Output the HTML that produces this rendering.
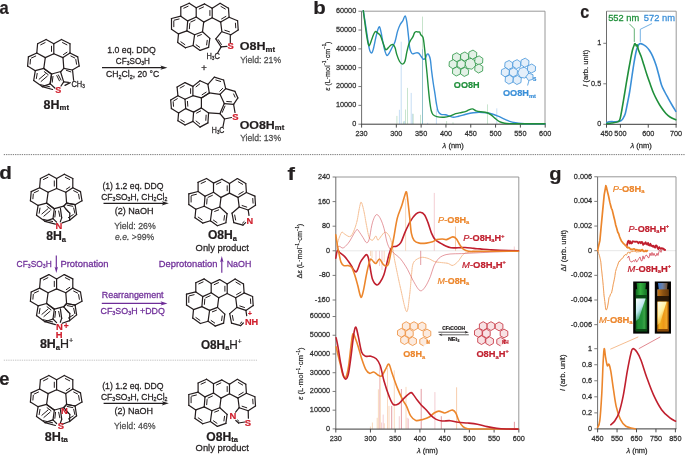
<!DOCTYPE html>
<html><head><meta charset="utf-8"><style>
html,body{margin:0;padding:0;background:#fff;overflow:hidden;width:685px;height:455px;}
svg{display:block;will-change:transform;}
text{font-family:"Liberation Sans",sans-serif;}
</style></head><body>
<svg width="685" height="455" viewBox="0 0 685 455">
<rect width="685" height="455" fill="#fff"/>
<line x1="396.9" y1="124" x2="396.9" y2="115.9" stroke="#b6dbbd" stroke-width="0.75"/>
<line x1="399.4" y1="124" x2="399.4" y2="109.8" stroke="#b3d2f0" stroke-width="0.75"/>
<line x1="401.2" y1="124" x2="401.2" y2="41.7" stroke="#b3d2f0" stroke-width="0.75"/>
<line x1="403.4" y1="124" x2="403.4" y2="121.4" stroke="#b6dbbd" stroke-width="0.75"/>
<line x1="404.4" y1="124" x2="404.4" y2="120.9" stroke="#b3d2f0" stroke-width="0.75"/>
<line x1="405.5" y1="124" x2="405.5" y2="109.5" stroke="#b6dbbd" stroke-width="0.75"/>
<line x1="407.5" y1="124" x2="407.5" y2="87.9" stroke="#b6dbbd" stroke-width="0.75"/>
<line x1="411.2" y1="124" x2="411.2" y2="92.9" stroke="#b3d2f0" stroke-width="0.75"/>
<line x1="412.4" y1="124" x2="412.4" y2="113.8" stroke="#b3d2f0" stroke-width="0.75"/>
<line x1="413.2" y1="124" x2="413.2" y2="113.8" stroke="#b6dbbd" stroke-width="0.75"/>
<line x1="420.5" y1="124" x2="420.5" y2="114.8" stroke="#b6dbbd" stroke-width="0.75"/>
<line x1="422.5" y1="124" x2="422.5" y2="16.6" stroke="#b3dab9" stroke-width="0.75"/>
<line x1="427.6" y1="124" x2="427.6" y2="122.9" stroke="#b3d2f0" stroke-width="0.75"/>
<line x1="436.4" y1="124" x2="436.4" y2="108.9" stroke="#b3d2f0" stroke-width="0.75"/>
<line x1="446.6" y1="124" x2="446.6" y2="121" stroke="#b6dbbd" stroke-width="0.75"/>
<line x1="453" y1="124" x2="453" y2="122.3" stroke="#b6dbbd" stroke-width="0.75"/>
<line x1="487.5" y1="124" x2="487.5" y2="104.4" stroke="#b6dbbd" stroke-width="0.75"/>
<line x1="496.8" y1="124" x2="496.8" y2="108.4" stroke="#b3d2f0" stroke-width="0.75"/>
<line x1="422.5" y1="124" x2="422.5" y2="49.2" stroke="#7fb6c9" stroke-width="0.75"/>
<line x1="361.6" y1="11.2" x2="545" y2="11.2" stroke="#8c8c8c" stroke-width="0.9"/>
<line x1="545" y1="11.2" x2="545" y2="124.2" stroke="#8c8c8c" stroke-width="0.9"/>
<line x1="361.6" y1="11.2" x2="361.6" y2="124.2" stroke="#6d6d6d" stroke-width="1.0"/>
<line x1="361.1" y1="124.2" x2="545.45" y2="124.2" stroke="#3a3a3a" stroke-width="1.0"/>
<line x1="358.4" y1="124.2" x2="361.6" y2="124.2" stroke="#6d6d6d" stroke-width="0.9"/>
<line x1="358.4" y1="105.37" x2="361.6" y2="105.37" stroke="#6d6d6d" stroke-width="0.9"/>
<line x1="358.4" y1="86.54" x2="361.6" y2="86.54" stroke="#6d6d6d" stroke-width="0.9"/>
<line x1="358.4" y1="67.71" x2="361.6" y2="67.71" stroke="#6d6d6d" stroke-width="0.9"/>
<line x1="358.4" y1="48.88" x2="361.6" y2="48.88" stroke="#6d6d6d" stroke-width="0.9"/>
<line x1="358.4" y1="30.05" x2="361.6" y2="30.05" stroke="#6d6d6d" stroke-width="0.9"/>
<line x1="358.4" y1="11.22" x2="361.6" y2="11.22" stroke="#6d6d6d" stroke-width="0.9"/>
<text x="356.2" y="126.15" font-size="8.1" fill="#2e2e2e" stroke="#2e2e2e" stroke-width="0.26" text-anchor="end" textLength="4.05" lengthAdjust="spacingAndGlyphs">0</text>
<text x="356.2" y="107.32" font-size="8.1" fill="#2e2e2e" stroke="#2e2e2e" stroke-width="0.26" text-anchor="end" textLength="20.25" lengthAdjust="spacingAndGlyphs">10000</text>
<text x="356.2" y="88.49" font-size="8.1" fill="#2e2e2e" stroke="#2e2e2e" stroke-width="0.26" text-anchor="end" textLength="20.25" lengthAdjust="spacingAndGlyphs">20000</text>
<text x="356.2" y="69.66" font-size="8.1" fill="#2e2e2e" stroke="#2e2e2e" stroke-width="0.26" text-anchor="end" textLength="20.25" lengthAdjust="spacingAndGlyphs">30000</text>
<text x="356.2" y="50.83" font-size="8.1" fill="#2e2e2e" stroke="#2e2e2e" stroke-width="0.26" text-anchor="end" textLength="20.25" lengthAdjust="spacingAndGlyphs">40000</text>
<text x="356.2" y="32" font-size="8.1" fill="#2e2e2e" stroke="#2e2e2e" stroke-width="0.26" text-anchor="end" textLength="20.25" lengthAdjust="spacingAndGlyphs">50000</text>
<text x="356.2" y="13.17" font-size="8.1" fill="#2e2e2e" stroke="#2e2e2e" stroke-width="0.26" text-anchor="end" textLength="20.25" lengthAdjust="spacingAndGlyphs">60000</text>
<line x1="361.6" y1="124.2" x2="361.6" y2="127.6" stroke="#3a3a3a" stroke-width="0.9"/>
<line x1="396.33" y1="124.2" x2="396.33" y2="127.6" stroke="#3a3a3a" stroke-width="0.9"/>
<line x1="421.14" y1="124.2" x2="421.14" y2="127.6" stroke="#3a3a3a" stroke-width="0.9"/>
<line x1="445.95" y1="124.2" x2="445.95" y2="127.6" stroke="#3a3a3a" stroke-width="0.9"/>
<line x1="470.76" y1="124.2" x2="470.76" y2="127.6" stroke="#3a3a3a" stroke-width="0.9"/>
<line x1="495.57" y1="124.2" x2="495.57" y2="127.6" stroke="#3a3a3a" stroke-width="0.9"/>
<line x1="520.38" y1="124.2" x2="520.38" y2="127.6" stroke="#3a3a3a" stroke-width="0.9"/>
<line x1="545.19" y1="124.2" x2="545.19" y2="127.6" stroke="#3a3a3a" stroke-width="0.9"/>
<text x="361.6" y="135.8" font-size="8.1" fill="#2e2e2e" stroke="#2e2e2e" stroke-width="0.26" text-anchor="middle" textLength="12.15" lengthAdjust="spacingAndGlyphs">230</text>
<text x="396.33" y="135.8" font-size="8.1" fill="#2e2e2e" stroke="#2e2e2e" stroke-width="0.26" text-anchor="middle" textLength="12.15" lengthAdjust="spacingAndGlyphs">300</text>
<text x="421.14" y="135.8" font-size="8.1" fill="#2e2e2e" stroke="#2e2e2e" stroke-width="0.26" text-anchor="middle" textLength="12.15" lengthAdjust="spacingAndGlyphs">350</text>
<text x="445.95" y="135.8" font-size="8.1" fill="#2e2e2e" stroke="#2e2e2e" stroke-width="0.26" text-anchor="middle" textLength="12.15" lengthAdjust="spacingAndGlyphs">400</text>
<text x="470.76" y="135.8" font-size="8.1" fill="#2e2e2e" stroke="#2e2e2e" stroke-width="0.26" text-anchor="middle" textLength="12.15" lengthAdjust="spacingAndGlyphs">450</text>
<text x="495.57" y="135.8" font-size="8.1" fill="#2e2e2e" stroke="#2e2e2e" stroke-width="0.26" text-anchor="middle" textLength="12.15" lengthAdjust="spacingAndGlyphs">500</text>
<text x="520.38" y="135.8" font-size="8.1" fill="#2e2e2e" stroke="#2e2e2e" stroke-width="0.26" text-anchor="middle" textLength="12.15" lengthAdjust="spacingAndGlyphs">550</text>
<text x="545.19" y="135.8" font-size="8.1" fill="#2e2e2e" stroke="#2e2e2e" stroke-width="0.26" text-anchor="middle" textLength="12.15" lengthAdjust="spacingAndGlyphs">600</text>
<path d="M363.3,10.7 C363.63,12.78 364.63,18.92 365.3,23.2 C365.97,27.48 366.65,32.22 367.3,36.4 C367.95,40.58 368.55,45.55 369.2,48.3 C369.85,51.05 370.53,52.68 371.2,52.9 C371.87,53.12 372.43,52.13 373.2,49.6 C373.97,47.07 375.03,41 375.8,37.7 C376.57,34.4 377.18,31.6 377.8,29.8 C378.42,28 378.95,26.47 379.5,26.9 C380.05,27.33 380.5,29.72 381.1,32.4 C381.7,35.08 382.43,39.8 383.1,43 C383.77,46.2 384.45,49.52 385.1,51.6 C385.75,53.68 386.35,55.18 387,55.5 C387.65,55.82 388.22,54.7 389,53.5 C389.78,52.3 390.7,50.27 391.7,48.3 C392.7,46.33 394.02,44.57 395,41.7 C395.98,38.83 396.73,33.97 397.6,31.1 C398.47,28.23 399.32,26.25 400.2,24.5 C401.08,22.75 402.08,22.03 402.9,20.6 C403.72,19.17 404.45,15.68 405.1,15.9 C405.75,16.12 406.23,18.48 406.8,21.9 C407.37,25.32 408.03,32.18 408.5,36.4 C408.97,40.62 409.2,44.63 409.6,47.2 C410,49.77 410.4,50.68 410.9,51.8 C411.4,52.92 411.77,53.72 412.6,53.9 C413.43,54.08 414.9,53.02 415.9,52.9 C416.9,52.78 417.72,52.6 418.6,53.2 C419.48,53.8 420.43,55.52 421.2,56.5 C421.97,57.48 422.53,58.77 423.2,59.1 C423.87,59.43 424.55,59.32 425.2,58.5 C425.85,57.68 426.5,54.82 427.1,54.2 C427.7,53.58 428.25,53.87 428.8,54.8 C429.35,55.73 429.92,56.98 430.4,59.8 C430.88,62.62 431.22,67.75 431.7,71.7 C432.18,75.65 432.75,79.77 433.3,83.5 C433.85,87.23 434.5,90.85 435,94.1 C435.5,97.35 435.78,100.15 436.3,103 C436.82,105.85 437.3,109.32 438.1,111.2 C438.9,113.08 439.88,113.72 441.1,114.3 C442.32,114.88 443.95,114.38 445.4,114.7 C446.85,115.02 448.45,115.78 449.8,116.2 C451.15,116.62 452.03,117.2 453.5,117.2 C454.97,117.2 456.53,116.68 458.6,116.2 C460.67,115.72 463.47,114.87 465.9,114.3 C468.33,113.73 471.02,113.15 473.2,112.8 C475.38,112.45 476.82,112.2 479,112.2 C481.18,112.2 484.1,112.5 486.3,112.8 C488.5,113.1 490.25,113.43 492.2,114 C494.15,114.57 496.07,115.4 498,116.2 C499.93,117 501.85,117.95 503.8,118.8 C505.75,119.65 507.75,120.65 509.7,121.3 C511.65,121.95 513.55,122.33 515.5,122.7 C517.45,123.07 518.98,123.32 521.4,123.5 C523.82,123.68 526.07,123.73 530,123.8 C533.93,123.87 542.5,123.88 545,123.9" fill="none" stroke="#3a8fd8" stroke-width="1.4" stroke-linejoin="round" stroke-linecap="round"/>
<path d="M363.3,10.7 C363.52,12.35 364.05,16.53 364.6,20.6 C365.15,24.67 366,31.27 366.6,35.1 C367.2,38.93 367.72,41.88 368.2,43.6 C368.68,45.32 368.88,46.17 369.5,45.4 C370.12,44.63 371.17,40.95 371.9,39 C372.63,37.05 373.28,34.95 373.9,33.7 C374.52,32.45 374.95,31.6 375.6,31.5 C376.25,31.4 377,32.4 377.8,33.1 C378.6,33.8 379.52,34.05 380.4,35.7 C381.28,37.35 382.22,40.68 383.1,43 C383.98,45.32 384.82,48.83 385.7,49.6 C386.58,50.37 387.52,48.37 388.4,47.6 C389.28,46.83 390.23,45.5 391,45 C391.77,44.5 392.33,44.17 393,44.6 C393.67,45.03 394.35,45.88 395,47.6 C395.65,49.32 396.13,52.58 396.9,54.9 C397.67,57.22 398.67,59.97 399.6,61.5 C400.53,63.03 401.62,64.1 402.5,64.1 C403.38,64.1 404.18,63.48 404.9,61.5 C405.62,59.52 406.15,55.07 406.8,52.2 C407.45,49.33 408.18,46.27 408.8,44.3 C409.42,42.33 409.85,41.6 410.5,40.4 C411.15,39.2 412.02,38.38 412.7,37.1 C413.38,35.82 414.02,33.62 414.6,32.7 C415.18,31.78 415.6,31.72 416.2,31.6 C416.8,31.48 417.63,31.92 418.2,32 C418.77,32.08 419.15,31.62 419.6,32.1 C420.05,32.58 420.32,33.98 420.9,34.9 C421.48,35.82 422.5,35.43 423.1,37.6 C423.7,39.77 424.05,43.98 424.5,47.9 C424.95,51.82 425.37,56.7 425.8,61.1 C426.23,65.5 426.67,69.68 427.1,74.3 C427.53,78.92 427.95,84.18 428.4,88.8 C428.85,93.42 429.33,98.38 429.8,102 C430.27,105.62 430.67,108.4 431.2,110.5 C431.73,112.6 432.08,113.58 433,114.6 C433.92,115.62 434.87,116.17 436.7,116.6 C438.53,117.03 441.82,117.27 444,117.2 C446.18,117.13 447.85,116.78 449.8,116.2 C451.75,115.62 453.75,114.32 455.7,113.7 C457.65,113.08 459.8,112.88 461.5,112.5 C463.2,112.12 464.68,111.83 465.9,111.4 C467.12,110.97 467.72,110.32 468.8,109.9 C469.88,109.48 471.18,108.75 472.4,108.9 C473.62,109.05 474.75,110.32 476.1,110.8 C477.45,111.28 478.8,111.52 480.5,111.8 C482.2,112.08 484.6,112.02 486.3,112.5 C488,112.98 489.23,113.72 490.7,114.7 C492.17,115.68 493.63,117.25 495.1,118.4 C496.57,119.55 497.92,120.8 499.5,121.6 C501.08,122.4 502.9,122.87 504.6,123.2 C506.3,123.53 506.3,123.52 509.7,123.6 C513.1,123.68 519.12,123.67 525,123.7 C530.88,123.73 541.67,123.78 545,123.8" fill="none" stroke="#1f8f3a" stroke-width="1.4" stroke-linejoin="round" stroke-linecap="round"/>
<line x1="606.5" y1="11.2" x2="676.2" y2="11.2" stroke="#8c8c8c" stroke-width="0.9"/>
<line x1="676.2" y1="11.2" x2="676.2" y2="124.3" stroke="#8c8c8c" stroke-width="0.9"/>
<line x1="606.5" y1="11.2" x2="606.5" y2="124.3" stroke="#6d6d6d" stroke-width="1.0"/>
<line x1="606" y1="124.3" x2="676.65" y2="124.3" stroke="#3a3a3a" stroke-width="1.0"/>
<line x1="603.3" y1="124.3" x2="606.5" y2="124.3" stroke="#6d6d6d" stroke-width="0.9"/>
<line x1="603.3" y1="83.8" x2="606.5" y2="83.8" stroke="#6d6d6d" stroke-width="0.9"/>
<line x1="603.3" y1="43.3" x2="606.5" y2="43.3" stroke="#6d6d6d" stroke-width="0.9"/>
<text x="601.2" y="126.25" font-size="8.1" fill="#2e2e2e" stroke="#2e2e2e" stroke-width="0.26" text-anchor="end" textLength="4.05" lengthAdjust="spacingAndGlyphs">0</text>
<text x="601.2" y="85.75" font-size="8.1" fill="#2e2e2e" stroke="#2e2e2e" stroke-width="0.26" text-anchor="end" textLength="10.12" lengthAdjust="spacingAndGlyphs">0.5</text>
<text x="601.2" y="45.25" font-size="8.1" fill="#2e2e2e" stroke="#2e2e2e" stroke-width="0.26" text-anchor="end" textLength="4.05" lengthAdjust="spacingAndGlyphs">1</text>
<line x1="606.5" y1="124.3" x2="606.5" y2="127.7" stroke="#3a3a3a" stroke-width="0.9"/>
<line x1="620.42" y1="124.3" x2="620.42" y2="127.7" stroke="#3a3a3a" stroke-width="0.9"/>
<line x1="648.26" y1="124.3" x2="648.26" y2="127.7" stroke="#3a3a3a" stroke-width="0.9"/>
<line x1="676.1" y1="124.3" x2="676.1" y2="127.7" stroke="#3a3a3a" stroke-width="0.9"/>
<text x="606.5" y="135.8" font-size="8.1" fill="#2e2e2e" stroke="#2e2e2e" stroke-width="0.26" text-anchor="middle" textLength="12.15" lengthAdjust="spacingAndGlyphs">450</text>
<text x="620.42" y="135.8" font-size="8.1" fill="#2e2e2e" stroke="#2e2e2e" stroke-width="0.26" text-anchor="middle" textLength="12.15" lengthAdjust="spacingAndGlyphs">500</text>
<text x="648.26" y="135.8" font-size="8.1" fill="#2e2e2e" stroke="#2e2e2e" stroke-width="0.26" text-anchor="middle" textLength="12.15" lengthAdjust="spacingAndGlyphs">600</text>
<text x="676.1" y="135.8" font-size="8.1" fill="#2e2e2e" stroke="#2e2e2e" stroke-width="0.26" text-anchor="middle" textLength="12.15" lengthAdjust="spacingAndGlyphs">700</text>
<path d="M606.8,122.6 C607.17,122.47 608.13,121.97 609,121.8 C609.87,121.63 610.83,121.6 612,121.6 C613.17,121.6 614.52,121.93 616,121.8 C617.48,121.67 619.73,121.35 620.9,120.8 C622.07,120.25 622.27,119.72 623,118.5 C623.73,117.28 624.55,116.08 625.3,113.5 C626.05,110.92 626.77,106.67 627.5,103 C628.23,99.33 628.95,96 629.7,91.5 C630.45,87 631.28,80.77 632,76 C632.72,71.23 633.37,66.73 634,62.9 C634.63,59.07 635.25,55.55 635.8,53 C636.35,50.45 636.77,49.05 637.3,47.6 C637.83,46.15 638.45,44.97 639,44.3 C639.55,43.63 639.93,43.57 640.6,43.6 C641.27,43.63 642.08,44.02 643,44.5 C643.92,44.98 645.02,45.5 646.1,46.5 C647.18,47.5 648.4,48.85 649.5,50.5 C650.6,52.15 651.62,53.97 652.7,56.4 C653.78,58.83 654.98,62 656,65.1 C657.02,68.2 657.88,71.7 658.8,75 C659.72,78.3 660.5,82.07 661.5,84.9 C662.5,87.73 663.7,89.8 664.8,92 C665.9,94.2 666.9,95.93 668.1,98.1 C669.3,100.27 670.72,102.8 672,105 C673.28,107.2 675.17,110.25 675.8,111.3" fill="none" stroke="#3a8fd8" stroke-width="1.6" stroke-linejoin="round" stroke-linecap="round"/>
<path d="M606.8,123.5 C607.67,123.42 610.02,123.35 612,123 C613.98,122.65 617.28,122.4 618.7,121.4 C620.12,120.4 619.95,119.07 620.5,117 C621.05,114.93 621.38,112.5 622,109 C622.62,105.5 623.47,100.38 624.2,96 C624.93,91.62 625.67,87.03 626.4,82.7 C627.13,78.37 627.88,74.02 628.6,70 C629.32,65.98 630.05,61.93 630.7,58.6 C631.35,55.27 631.92,52.27 632.5,50 C633.08,47.73 633.77,46.07 634.2,45 C634.63,43.93 634.75,43.43 635.1,43.6 C635.45,43.77 635.95,45.8 636.3,46 C636.65,46.2 636.85,44.17 637.2,44.8 C637.55,45.43 637.77,47.93 638.4,49.8 C639.03,51.67 640.08,53.45 641,56 C641.92,58.55 642.9,61.93 643.9,65.1 C644.9,68.27 645.9,71.7 647,75 C648.1,78.3 649.42,81.9 650.5,84.9 C651.58,87.9 652.4,90.43 653.5,93 C654.6,95.57 655.85,97.97 657.1,100.3 C658.35,102.63 659.53,104.8 661,107 C662.47,109.2 664.4,111.83 665.9,113.5 C667.4,115.17 668.35,115.95 670,117 C671.65,118.05 674.83,119.33 675.8,119.8" fill="none" stroke="#1f8f3a" stroke-width="1.6" stroke-linejoin="round" stroke-linecap="round"/>
<polyline points="629.6,24.1 634.3,28.8 634.3,41.5" fill="none" stroke="#1f8f3a" stroke-width="0.7" stroke-linejoin="round" stroke-linecap="round"/>
<polyline points="651.7,23.7 640.3,29.3 640.3,41.5" fill="none" stroke="#3a8fd8" stroke-width="0.7" stroke-linejoin="round" stroke-linecap="round"/>
<line x1="335.8" y1="250.8" x2="518.8" y2="250.8" stroke="#e2e2e2" stroke-width="0.8"/>
<line x1="405.6" y1="250.8" x2="405.6" y2="198.7" stroke="#f7c9a4" stroke-width="0.7"/>
<line x1="434.3" y1="250.8" x2="434.3" y2="192.9" stroke="#efb9c0" stroke-width="0.7"/>
<line x1="455.5" y1="250.8" x2="455.5" y2="226.5" stroke="#f4b98a" stroke-width="0.7"/>
<line x1="514.3" y1="250.8" x2="514.3" y2="246.5" stroke="#efb9c0" stroke-width="0.7"/>
<line x1="420.7" y1="265" x2="420.7" y2="250.8" stroke="#d9737c" stroke-width="0.7"/>
<line x1="372" y1="258" x2="372" y2="250.8" stroke="#f7c9a4" stroke-width="0.7"/>
<line x1="376" y1="262" x2="376" y2="250.8" stroke="#efb9c0" stroke-width="0.7"/>
<line x1="379.5" y1="266" x2="379.5" y2="250.8" stroke="#efb9c0" stroke-width="0.7"/>
<line x1="382" y1="270" x2="382" y2="250.8" stroke="#efb9c0" stroke-width="0.7"/>
<line x1="384.2" y1="262" x2="384.2" y2="250.8" stroke="#f7c9a4" stroke-width="0.7"/>
<line x1="370.5" y1="256" x2="370.5" y2="250.8" stroke="#f7c9a4" stroke-width="0.7"/>
<line x1="370.4" y1="428.9" x2="370.4" y2="426.5" stroke="#f7c9a4" stroke-width="0.7"/>
<line x1="372.4" y1="428.9" x2="372.4" y2="422.5" stroke="#f7c9a4" stroke-width="0.7"/>
<line x1="377.2" y1="428.9" x2="377.2" y2="417.8" stroke="#f7c9a4" stroke-width="0.7"/>
<line x1="378.4" y1="428.9" x2="378.4" y2="389.3" stroke="#f7c9a4" stroke-width="0.7"/>
<line x1="379.5" y1="428.9" x2="379.5" y2="366.3" stroke="#efb9c0" stroke-width="0.7"/>
<line x1="380.3" y1="428.9" x2="380.3" y2="375.8" stroke="#f7c9a4" stroke-width="0.7"/>
<line x1="381.6" y1="428.9" x2="381.6" y2="422.5" stroke="#efb9c0" stroke-width="0.7"/>
<line x1="383.2" y1="428.9" x2="383.2" y2="414.6" stroke="#efb9c0" stroke-width="0.7"/>
<line x1="384.3" y1="428.9" x2="384.3" y2="423.3" stroke="#f7c9a4" stroke-width="0.7"/>
<line x1="387.5" y1="428.9" x2="387.5" y2="367.9" stroke="#f7c9a4" stroke-width="0.7"/>
<line x1="389" y1="428.9" x2="389" y2="405.9" stroke="#f7c9a4" stroke-width="0.7"/>
<line x1="391.7" y1="428.9" x2="391.7" y2="405.9" stroke="#d9737c" stroke-width="0.7"/>
<line x1="394.3" y1="428.9" x2="394.3" y2="370.3" stroke="#f7c9a4" stroke-width="0.7"/>
<line x1="399.3" y1="428.9" x2="399.3" y2="416.2" stroke="#efb9c0" stroke-width="0.7"/>
<line x1="401.4" y1="428.9" x2="401.4" y2="389" stroke="#d9737c" stroke-width="0.7"/>
<line x1="406" y1="428.9" x2="406" y2="386.9" stroke="#f7c9a4" stroke-width="0.7"/>
<line x1="407.2" y1="428.9" x2="407.2" y2="417.8" stroke="#efb9c0" stroke-width="0.7"/>
<line x1="408.5" y1="428.9" x2="408.5" y2="418.6" stroke="#efb9c0" stroke-width="0.7"/>
<line x1="421.2" y1="428.9" x2="421.2" y2="388.9" stroke="#d9737c" stroke-width="0.7"/>
<line x1="434.9" y1="428.9" x2="434.9" y2="392.1" stroke="#efb9c0" stroke-width="0.7"/>
<line x1="441.3" y1="428.9" x2="441.3" y2="416.2" stroke="#d9737c" stroke-width="0.7"/>
<line x1="456.6" y1="428.9" x2="456.6" y2="387.3" stroke="#f4b98a" stroke-width="0.7"/>
<line x1="514.4" y1="428.9" x2="514.4" y2="421.8" stroke="#d9737c" stroke-width="0.7"/>
<line x1="335.8" y1="177" x2="518.8" y2="177" stroke="#8c8c8c" stroke-width="0.9"/>
<line x1="518.8" y1="177" x2="518.8" y2="429.1" stroke="#8c8c8c" stroke-width="0.9"/>
<line x1="335.8" y1="177" x2="335.8" y2="429.1" stroke="#6d6d6d" stroke-width="1.0"/>
<line x1="335.3" y1="429.1" x2="519.2" y2="429.1" stroke="#3a3a3a" stroke-width="1.0"/>
<line x1="332.6" y1="177" x2="335.8" y2="177" stroke="#6d6d6d" stroke-width="0.9"/>
<line x1="332.6" y1="201.6" x2="335.8" y2="201.6" stroke="#6d6d6d" stroke-width="0.9"/>
<line x1="332.6" y1="226.2" x2="335.8" y2="226.2" stroke="#6d6d6d" stroke-width="0.9"/>
<line x1="332.6" y1="250.8" x2="335.8" y2="250.8" stroke="#6d6d6d" stroke-width="0.9"/>
<line x1="332.6" y1="275.4" x2="335.8" y2="275.4" stroke="#6d6d6d" stroke-width="0.9"/>
<line x1="332.6" y1="300" x2="335.8" y2="300" stroke="#6d6d6d" stroke-width="0.9"/>
<text x="330.1" y="178.95" font-size="8.1" fill="#2e2e2e" stroke="#2e2e2e" stroke-width="0.26" text-anchor="end" textLength="12.15" lengthAdjust="spacingAndGlyphs">240</text>
<text x="330.1" y="203.55" font-size="8.1" fill="#2e2e2e" stroke="#2e2e2e" stroke-width="0.26" text-anchor="end" textLength="12.15" lengthAdjust="spacingAndGlyphs">160</text>
<text x="330.1" y="228.15" font-size="8.1" fill="#2e2e2e" stroke="#2e2e2e" stroke-width="0.26" text-anchor="end" textLength="8.1" lengthAdjust="spacingAndGlyphs">80</text>
<text x="330.1" y="252.75" font-size="8.1" fill="#2e2e2e" stroke="#2e2e2e" stroke-width="0.26" text-anchor="end" textLength="4.05" lengthAdjust="spacingAndGlyphs">0</text>
<text x="330.1" y="277.35" font-size="8.1" fill="#2e2e2e" stroke="#2e2e2e" stroke-width="0.26" text-anchor="end" textLength="11.18" lengthAdjust="spacingAndGlyphs">-80</text>
<text x="330.1" y="301.95" font-size="8.1" fill="#2e2e2e" stroke="#2e2e2e" stroke-width="0.26" text-anchor="end" textLength="15.23" lengthAdjust="spacingAndGlyphs">-160</text>
<line x1="332.6" y1="428.9" x2="335.8" y2="428.9" stroke="#6d6d6d" stroke-width="0.9"/>
<line x1="332.6" y1="410.17" x2="335.8" y2="410.17" stroke="#6d6d6d" stroke-width="0.9"/>
<line x1="332.6" y1="391.44" x2="335.8" y2="391.44" stroke="#6d6d6d" stroke-width="0.9"/>
<line x1="332.6" y1="372.71" x2="335.8" y2="372.71" stroke="#6d6d6d" stroke-width="0.9"/>
<line x1="332.6" y1="353.98" x2="335.8" y2="353.98" stroke="#6d6d6d" stroke-width="0.9"/>
<line x1="332.6" y1="335.25" x2="335.8" y2="335.25" stroke="#6d6d6d" stroke-width="0.9"/>
<line x1="332.6" y1="316.52" x2="335.8" y2="316.52" stroke="#6d6d6d" stroke-width="0.9"/>
<text x="330.1" y="430.85" font-size="8.1" fill="#2e2e2e" stroke="#2e2e2e" stroke-width="0.26" text-anchor="end" textLength="4.05" lengthAdjust="spacingAndGlyphs">0</text>
<text x="330.1" y="412.12" font-size="8.1" fill="#2e2e2e" stroke="#2e2e2e" stroke-width="0.26" text-anchor="end" textLength="20.25" lengthAdjust="spacingAndGlyphs">10000</text>
<text x="330.1" y="393.39" font-size="8.1" fill="#2e2e2e" stroke="#2e2e2e" stroke-width="0.26" text-anchor="end" textLength="20.25" lengthAdjust="spacingAndGlyphs">20000</text>
<text x="330.1" y="374.66" font-size="8.1" fill="#2e2e2e" stroke="#2e2e2e" stroke-width="0.26" text-anchor="end" textLength="20.25" lengthAdjust="spacingAndGlyphs">30000</text>
<text x="330.1" y="355.93" font-size="8.1" fill="#2e2e2e" stroke="#2e2e2e" stroke-width="0.26" text-anchor="end" textLength="20.25" lengthAdjust="spacingAndGlyphs">40000</text>
<text x="330.1" y="337.2" font-size="8.1" fill="#2e2e2e" stroke="#2e2e2e" stroke-width="0.26" text-anchor="end" textLength="20.25" lengthAdjust="spacingAndGlyphs">50000</text>
<text x="330.1" y="318.47" font-size="8.1" fill="#2e2e2e" stroke="#2e2e2e" stroke-width="0.26" text-anchor="end" textLength="20.25" lengthAdjust="spacingAndGlyphs">60000</text>
<line x1="335.8" y1="429.1" x2="335.8" y2="432.5" stroke="#3a3a3a" stroke-width="0.9"/>
<line x1="370.43" y1="429.1" x2="370.43" y2="432.5" stroke="#3a3a3a" stroke-width="0.9"/>
<line x1="395.16" y1="429.1" x2="395.16" y2="432.5" stroke="#3a3a3a" stroke-width="0.9"/>
<line x1="419.9" y1="429.1" x2="419.9" y2="432.5" stroke="#3a3a3a" stroke-width="0.9"/>
<line x1="444.63" y1="429.1" x2="444.63" y2="432.5" stroke="#3a3a3a" stroke-width="0.9"/>
<line x1="469.37" y1="429.1" x2="469.37" y2="432.5" stroke="#3a3a3a" stroke-width="0.9"/>
<line x1="494.1" y1="429.1" x2="494.1" y2="432.5" stroke="#3a3a3a" stroke-width="0.9"/>
<line x1="518.84" y1="429.1" x2="518.84" y2="432.5" stroke="#3a3a3a" stroke-width="0.9"/>
<text x="335.8" y="440.6" font-size="8.1" fill="#2e2e2e" stroke="#2e2e2e" stroke-width="0.26" text-anchor="middle" textLength="12.15" lengthAdjust="spacingAndGlyphs">230</text>
<text x="370.43" y="440.6" font-size="8.1" fill="#2e2e2e" stroke="#2e2e2e" stroke-width="0.26" text-anchor="middle" textLength="12.15" lengthAdjust="spacingAndGlyphs">300</text>
<text x="395.16" y="440.6" font-size="8.1" fill="#2e2e2e" stroke="#2e2e2e" stroke-width="0.26" text-anchor="middle" textLength="12.15" lengthAdjust="spacingAndGlyphs">350</text>
<text x="419.9" y="440.6" font-size="8.1" fill="#2e2e2e" stroke="#2e2e2e" stroke-width="0.26" text-anchor="middle" textLength="12.15" lengthAdjust="spacingAndGlyphs">400</text>
<text x="444.63" y="440.6" font-size="8.1" fill="#2e2e2e" stroke="#2e2e2e" stroke-width="0.26" text-anchor="middle" textLength="12.15" lengthAdjust="spacingAndGlyphs">450</text>
<text x="469.37" y="440.6" font-size="8.1" fill="#2e2e2e" stroke="#2e2e2e" stroke-width="0.26" text-anchor="middle" textLength="12.15" lengthAdjust="spacingAndGlyphs">500</text>
<text x="494.1" y="440.6" font-size="8.1" fill="#2e2e2e" stroke="#2e2e2e" stroke-width="0.26" text-anchor="middle" textLength="12.15" lengthAdjust="spacingAndGlyphs">550</text>
<text x="518.84" y="440.6" font-size="8.1" fill="#2e2e2e" stroke="#2e2e2e" stroke-width="0.26" text-anchor="middle" textLength="12.15" lengthAdjust="spacingAndGlyphs">600</text>
<path d="M336.6,246.3 C337.05,244.83 338.42,239.85 339.3,237.5 C340.18,235.15 341.03,232.78 341.9,232.2 C342.77,231.62 343.18,233.27 344.5,234 C345.82,234.73 348.33,236.9 349.8,236.6 C351.27,236.3 352.12,234.7 353.3,232.2 C354.48,229.7 355.87,225.7 356.9,221.6 C357.93,217.5 358.77,210.82 359.5,207.6 C360.23,204.38 360.57,201.72 361.3,202.3 C362.03,202.88 363.03,207.28 363.9,211.1 C364.77,214.92 365.62,220.8 366.5,225.2 C367.38,229.6 368.17,235.02 369.2,237.5 C370.23,239.98 371.6,240.33 372.7,240.1 C373.8,239.87 374.92,236.1 375.8,236.1 C376.68,236.1 377.05,240.17 378,240.1 C378.95,240.03 380.33,237.02 381.5,235.7 C382.67,234.38 383.83,232.35 385,232.2 C386.17,232.05 387.48,233.33 388.5,234.8 C389.52,236.27 390.28,238.05 391.1,241 C391.92,243.95 392.75,249 393.4,252.5 C394.05,256 393.82,256.08 395,262 C396.18,267.92 398.58,279.75 400.5,288 C402.42,296.25 405,310.17 406.5,311.5 C408,312.83 408.7,301.72 409.5,296 C410.3,290.28 410.77,282.37 411.3,277.2 C411.83,272.03 412,267.83 412.7,265 C413.4,262.17 414.13,261.45 415.5,260.2 C416.87,258.95 419.32,257.93 420.9,257.5 C422.48,257.07 423.57,257.35 425,257.6 C426.43,257.85 427.88,258.33 429.5,259 C431.12,259.67 432.8,261.02 434.7,261.6 C436.6,262.18 438.7,262.2 440.9,262.5 C443.1,262.8 445.93,262.92 447.9,263.4 C449.87,263.88 451.02,265.72 452.7,265.4 C454.38,265.08 456.38,263.17 458,261.5 C459.62,259.83 460.93,256.87 462.4,255.4 C463.87,253.93 463.87,253.28 466.8,252.7 C469.73,252.12 474.47,252.13 480,251.9 C485.53,251.67 493.67,251.45 500,251.3 C506.33,251.15 515,251.05 518,251" fill="none" stroke="#f0a060" stroke-width="0.6" stroke-linejoin="round" stroke-linecap="round" stroke-dasharray="1.3 0.5"/>
<path d="M336.6,248 C337.05,247.72 338.27,246.3 339.3,246.3 C340.33,246.3 341.63,248.15 342.8,248 C343.97,247.85 345.13,246.57 346.3,245.4 C347.47,244.23 348.63,242.77 349.8,241 C350.97,239.23 352.12,236.7 353.3,234.8 C354.48,232.9 355.87,230.03 356.9,229.6 C357.93,229.17 358.48,230.88 359.5,232.2 C360.52,233.52 361.83,235.75 363,237.5 C364.17,239.25 365.47,242.42 366.5,242.7 C367.53,242.98 368.32,242.12 369.2,239.2 C370.08,236.28 370.93,228.85 371.8,225.2 C372.67,221.55 373.52,219.07 374.4,217.3 C375.28,215.53 376.07,214.32 377.1,214.6 C378.13,214.88 379.43,216.65 380.6,219 C381.77,221.35 383.08,225.03 384.1,228.7 C385.12,232.37 385.82,237.78 386.7,241 C387.58,244.22 388.25,246.02 389.4,248 C390.55,249.98 391.73,251.07 393.6,252.9 C395.47,254.73 398.27,256.23 400.6,259 C402.93,261.77 405.57,266 407.6,269.5 C409.63,273 410.77,276.5 412.8,280 C414.83,283.5 417.75,289.33 419.8,290.5 C421.85,291.67 423.33,289.33 425.1,287 C426.87,284.67 428.93,280 430.4,276.5 C431.87,273 432.45,269.07 433.9,266 C435.35,262.93 437.07,260 439.1,258.1 C441.13,256.2 443.62,255.32 446.1,254.6 C448.58,253.88 451.43,253.97 454,253.8 C456.57,253.63 457.17,253.78 461.5,253.6 C465.83,253.42 473.58,253 480,252.7 C486.42,252.4 493.67,252.05 500,251.8 C506.33,251.55 515,251.3 518,251.2" fill="none" stroke="#d45560" stroke-width="0.6" stroke-linejoin="round" stroke-linecap="round"/>
<path d="M335.8,258.1 C336.08,256.8 336.78,251.17 337.5,250.3 C338.22,249.43 338.93,251.88 340.1,252.9 C341.27,253.92 343.18,255.08 344.5,256.4 C345.82,257.72 346.83,259.2 348,260.8 C349.17,262.4 350.48,264.4 351.5,266 C352.52,267.6 353.22,269.52 354.1,270.4 C354.98,271.28 355.77,272.62 356.8,271.3 C357.83,269.98 359.13,264.83 360.3,262.5 C361.47,260.17 362.78,258.62 363.8,257.3 C364.82,255.98 365.67,254.6 366.4,254.6 C367.13,254.6 367.62,255.4 368.2,257.3 C368.78,259.2 369.18,262.35 369.9,266 C370.62,269.65 371.33,276.05 372.5,279.2 C373.67,282.35 375.58,284.47 376.9,284.9 C378.22,285.33 379.23,283.48 380.4,281.8 C381.57,280.12 382.87,277.72 383.9,274.8 C384.93,271.88 385.72,267.8 386.6,264.3 C387.48,260.8 388.3,256.67 389.2,253.8 C390.1,250.93 390.8,248.35 392,247.1 C393.2,245.85 394.93,247.03 396.4,246.3 C397.87,245.57 399.32,245.15 400.8,242.7 C402.28,240.25 403.68,235.2 405.3,231.6 C406.92,228 408.75,224.02 410.5,221.1 C412.25,218.18 414.18,215.57 415.8,214.1 C417.42,212.63 418.73,212.17 420.2,212.3 C421.67,212.43 423.28,213.13 424.6,214.9 C425.92,216.67 426.93,219.82 428.1,222.9 C429.27,225.98 430.42,230.62 431.6,233.4 C432.78,236.18 433.73,237.98 435.2,239.6 C436.67,241.22 438.65,242.02 440.4,243.1 C442.15,244.18 443.93,245.32 445.7,246.1 C447.47,246.88 448.95,247.52 451,247.8 C453.05,248.08 455.65,247.85 458,247.8 C460.35,247.75 462.47,247.4 465.1,247.5 C467.73,247.6 471.32,248.17 473.8,248.4 C476.28,248.63 477.3,248.67 480,248.9 C482.7,249.13 486.67,249.55 490,249.8 C493.33,250.05 495.25,250.22 500,250.4 C504.75,250.58 515.42,250.82 518.5,250.9" fill="none" stroke="#c01f2e" stroke-width="1.6" stroke-linejoin="round" stroke-linecap="round"/>
<path d="M335.8,234.8 C336.08,236.67 336.92,242.63 337.5,246 C338.08,249.37 338.72,252.32 339.3,255 C339.88,257.68 340.27,260.33 341,262.1 C341.73,263.87 342.52,265.02 343.7,265.6 C344.88,266.18 346.78,265.3 348.1,265.6 C349.42,265.9 350.45,265.72 351.6,267.4 C352.75,269.08 353.98,272.72 355,275.7 C356.02,278.68 356.82,281.95 357.7,285.3 C358.58,288.65 359.63,293.9 360.3,295.8 C360.97,297.7 361.12,297.87 361.7,296.7 C362.28,295.53 363.02,292.45 363.8,288.8 C364.58,285.15 365.53,279.03 366.4,274.8 C367.27,270.57 368.27,266.03 369,263.4 C369.73,260.77 370.07,259.3 370.8,259 C371.53,258.7 372.53,260.87 373.4,261.6 C374.27,262.33 374.98,263.83 376,263.4 C377.02,262.97 378.32,258.85 379.5,259 C380.68,259.15 382.07,263.13 383.1,264.3 C384.13,265.47 384.83,266 385.7,266 C386.57,266 387.42,266.63 388.3,264.3 C389.18,261.97 390.08,256.47 391,252 C391.92,247.53 392.75,243.15 393.8,237.5 C394.85,231.85 395.98,223.38 397.3,218.1 C398.62,212.82 400.53,209.32 401.7,205.8 C402.87,202.28 403.52,199.33 404.3,197 C405.08,194.67 405.82,191.22 406.4,191.8 C406.98,192.38 407.25,196.2 407.8,200.5 C408.35,204.8 409.1,212.12 409.7,217.6 C410.3,223.08 410.67,229.6 411.4,233.4 C412.13,237.2 412.78,238.78 414.1,240.4 C415.42,242.02 417.25,242.65 419.3,243.1 C421.35,243.55 424.2,243.32 426.4,243.1 C428.6,242.88 430.75,242.38 432.5,241.8 C434.25,241.22 435.28,240.07 436.9,239.6 C438.52,239.13 440.58,239 442.2,239 C443.82,239 444.85,239.95 446.6,239.6 C448.35,239.25 451.08,237.05 452.7,236.9 C454.32,236.75 455.12,237.38 456.3,238.7 C457.48,240.02 458.63,243.05 459.8,244.8 C460.97,246.55 461.83,248.12 463.3,249.2 C464.77,250.28 465.82,250.95 468.6,251.3 C471.38,251.65 471.68,251.3 480,251.3 C488.32,251.3 512.08,251.3 518.5,251.3" fill="none" stroke="#ec862c" stroke-width="1.6" stroke-linejoin="round" stroke-linecap="round"/>
<path d="M336.1,346.9 C336.42,348.23 337.25,351.82 338,354.9 C338.75,357.98 339.73,361.88 340.6,365.4 C341.47,368.92 342.32,374.02 343.2,376 C344.08,377.98 345.02,378.85 345.9,377.3 C346.78,375.75 347.62,372.2 348.5,366.7 C349.38,361.2 350.45,349.78 351.2,344.3 C351.95,338.82 352.27,334.68 353,333.8 C353.73,332.92 354.72,336.82 355.6,339 C356.48,341.18 357.28,343.6 358.3,346.9 C359.32,350.2 360.47,355.05 361.7,358.8 C362.93,362.55 364.38,366.98 365.7,369.4 C367.02,371.82 368.28,372.87 369.6,373.3 C370.92,373.73 372.28,371.77 373.6,372 C374.92,372.23 376.18,374.03 377.5,374.7 C378.82,375.37 380.17,376.88 381.5,376 C382.83,375.12 384.27,371.38 385.5,369.4 C386.73,367.42 387.8,363.45 388.9,364.1 C390,364.75 390.7,369.33 392.1,373.3 C393.5,377.27 395.55,383.5 397.3,387.9 C399.05,392.3 401.05,396.63 402.6,399.7 C404.15,402.77 405.28,403.65 406.6,406.3 C407.92,408.95 408.97,413.23 410.5,415.6 C412.03,417.97 413.75,419.87 415.8,420.5 C417.85,421.13 420.55,419.98 422.8,419.4 C425.05,418.82 427.42,418.07 429.3,417 C431.18,415.93 432.5,413.98 434.1,413 C435.7,412.02 437.17,411.1 438.9,411.1 C440.63,411.1 442.9,412.95 444.5,413 C446.1,413.05 447.15,411.88 448.5,411.4 C449.85,410.92 451.38,409.83 452.6,410.1 C453.82,410.37 454.73,411.18 455.8,413 C456.87,414.82 457.8,418.73 459,421 C460.2,423.27 461.53,425.32 463,426.6 C464.47,427.88 465.4,428.3 467.8,428.7 C470.2,429.1 469.03,428.95 477.4,429 C485.77,429.05 511.23,429 518,429" fill="none" stroke="#ec862c" stroke-width="1.6" stroke-linejoin="round" stroke-linecap="round"/>
<path d="M336.1,337.7 C336.42,339.23 337.25,342.72 338,346.9 C338.75,351.08 339.73,358.17 340.6,362.8 C341.47,367.43 342.32,371.98 343.2,374.7 C344.08,377.42 345.02,379.33 345.9,379.1 C346.78,378.87 347.62,377.33 348.5,373.3 C349.38,369.27 350.32,361.48 351.2,354.9 C352.08,348.32 353.02,338.42 353.8,333.8 C354.58,329.18 355.15,326.77 355.9,327.2 C356.65,327.63 357.33,332.23 358.3,336.4 C359.27,340.57 360.47,348.9 361.7,352.2 C362.93,355.5 364.17,355.53 365.7,356.2 C367.23,356.87 369.15,355.77 370.9,356.2 C372.65,356.63 374.65,357.27 376.2,358.8 C377.75,360.33 378.88,361.65 380.2,365.4 C381.52,369.15 382.57,376.02 384.1,381.3 C385.63,386.58 387.85,393.23 389.4,397.1 C390.95,400.97 391.85,403.4 393.4,404.5 C394.95,405.6 396.95,404.72 398.7,403.7 C400.45,402.68 401.93,400.22 403.9,398.4 C405.87,396.58 408.95,393.45 410.5,392.8 C412.05,392.15 412.08,393.28 413.2,394.5 C414.32,395.72 415.87,398.35 417.2,400.1 C418.53,401.85 419.72,403.38 421.2,405 C422.68,406.62 424.48,408.07 426.1,409.8 C427.72,411.53 429.3,413.85 430.9,415.4 C432.5,416.95 433.83,418.17 435.7,419.1 C437.57,420.03 439.7,420.73 442.1,421 C444.5,421.27 447.42,420.48 450.1,420.7 C452.78,420.92 455.25,421.92 458.2,422.3 C461.15,422.68 464.6,422.68 467.8,423 C471,423.32 474.18,423.6 477.4,424.2 C480.62,424.8 483.88,425.92 487.1,426.6 C490.32,427.28 493.48,427.9 496.7,428.3 C499.92,428.7 502.85,428.87 506.4,429 C509.95,429.13 516.07,429.08 518,429.1" fill="none" stroke="#c01f2e" stroke-width="1.6" stroke-linejoin="round" stroke-linecap="round"/>
<line x1="597.6" y1="250.7" x2="676" y2="250.7" stroke="#e0e0e0" stroke-width="0.8"/>
<line x1="597.6" y1="176.8" x2="676" y2="176.8" stroke="#8c8c8c" stroke-width="0.9"/>
<line x1="676" y1="176.8" x2="676" y2="428.9" stroke="#8c8c8c" stroke-width="0.9"/>
<line x1="597.6" y1="176.8" x2="597.6" y2="428.9" stroke="#6d6d6d" stroke-width="1.0"/>
<line x1="597.1" y1="428.9" x2="676.4" y2="428.9" stroke="#3a3a3a" stroke-width="1.0"/>
<line x1="594.3" y1="176.75" x2="597.6" y2="176.75" stroke="#6d6d6d" stroke-width="0.9"/>
<line x1="594.3" y1="201.4" x2="597.6" y2="201.4" stroke="#6d6d6d" stroke-width="0.9"/>
<line x1="594.3" y1="226.05" x2="597.6" y2="226.05" stroke="#6d6d6d" stroke-width="0.9"/>
<line x1="594.3" y1="250.7" x2="597.6" y2="250.7" stroke="#6d6d6d" stroke-width="0.9"/>
<line x1="594.3" y1="275.35" x2="597.6" y2="275.35" stroke="#6d6d6d" stroke-width="0.9"/>
<line x1="594.3" y1="300" x2="597.6" y2="300" stroke="#6d6d6d" stroke-width="0.9"/>
<line x1="594.3" y1="324.65" x2="597.6" y2="324.65" stroke="#6d6d6d" stroke-width="0.9"/>
<text x="592.1" y="178.7" font-size="8.1" fill="#2e2e2e" stroke="#2e2e2e" stroke-width="0.26" text-anchor="end" textLength="18.23" lengthAdjust="spacingAndGlyphs">0.006</text>
<text x="592.1" y="203.35" font-size="8.1" fill="#2e2e2e" stroke="#2e2e2e" stroke-width="0.26" text-anchor="end" textLength="18.23" lengthAdjust="spacingAndGlyphs">0.004</text>
<text x="592.1" y="228" font-size="8.1" fill="#2e2e2e" stroke="#2e2e2e" stroke-width="0.26" text-anchor="end" textLength="18.23" lengthAdjust="spacingAndGlyphs">0.002</text>
<text x="592.1" y="252.65" font-size="8.1" fill="#2e2e2e" stroke="#2e2e2e" stroke-width="0.26" text-anchor="end" textLength="4.05" lengthAdjust="spacingAndGlyphs">0</text>
<text x="592.1" y="277.3" font-size="8.1" fill="#2e2e2e" stroke="#2e2e2e" stroke-width="0.26" text-anchor="end" textLength="21.3" lengthAdjust="spacingAndGlyphs">-0.002</text>
<text x="592.1" y="301.95" font-size="8.1" fill="#2e2e2e" stroke="#2e2e2e" stroke-width="0.26" text-anchor="end" textLength="21.3" lengthAdjust="spacingAndGlyphs">-0.004</text>
<text x="592.1" y="326.6" font-size="8.1" fill="#2e2e2e" stroke="#2e2e2e" stroke-width="0.26" text-anchor="end" textLength="21.3" lengthAdjust="spacingAndGlyphs">-0.006</text>
<line x1="594.3" y1="428.9" x2="597.6" y2="428.9" stroke="#6d6d6d" stroke-width="0.9"/>
<line x1="594.3" y1="412.86" x2="597.6" y2="412.86" stroke="#6d6d6d" stroke-width="0.9"/>
<line x1="594.3" y1="396.82" x2="597.6" y2="396.82" stroke="#6d6d6d" stroke-width="0.9"/>
<line x1="594.3" y1="380.78" x2="597.6" y2="380.78" stroke="#6d6d6d" stroke-width="0.9"/>
<line x1="594.3" y1="364.74" x2="597.6" y2="364.74" stroke="#6d6d6d" stroke-width="0.9"/>
<line x1="594.3" y1="348.7" x2="597.6" y2="348.7" stroke="#6d6d6d" stroke-width="0.9"/>
<text x="592.1" y="430.85" font-size="8.1" fill="#2e2e2e" stroke="#2e2e2e" stroke-width="0.26" text-anchor="end" textLength="4.05" lengthAdjust="spacingAndGlyphs">0</text>
<text x="592.1" y="414.81" font-size="8.1" fill="#2e2e2e" stroke="#2e2e2e" stroke-width="0.26" text-anchor="end" textLength="10.12" lengthAdjust="spacingAndGlyphs">0.2</text>
<text x="592.1" y="398.77" font-size="8.1" fill="#2e2e2e" stroke="#2e2e2e" stroke-width="0.26" text-anchor="end" textLength="10.12" lengthAdjust="spacingAndGlyphs">0.4</text>
<text x="592.1" y="382.73" font-size="8.1" fill="#2e2e2e" stroke="#2e2e2e" stroke-width="0.26" text-anchor="end" textLength="10.12" lengthAdjust="spacingAndGlyphs">0.6</text>
<text x="592.1" y="366.69" font-size="8.1" fill="#2e2e2e" stroke="#2e2e2e" stroke-width="0.26" text-anchor="end" textLength="10.12" lengthAdjust="spacingAndGlyphs">0.8</text>
<text x="592.1" y="350.65" font-size="8.1" fill="#2e2e2e" stroke="#2e2e2e" stroke-width="0.26" text-anchor="end" textLength="4.05" lengthAdjust="spacingAndGlyphs">1</text>
<line x1="597.6" y1="428.9" x2="597.6" y2="432.3" stroke="#3a3a3a" stroke-width="0.9"/>
<line x1="617.05" y1="428.9" x2="617.05" y2="432.3" stroke="#3a3a3a" stroke-width="0.9"/>
<line x1="636.5" y1="428.9" x2="636.5" y2="432.3" stroke="#3a3a3a" stroke-width="0.9"/>
<line x1="655.95" y1="428.9" x2="655.95" y2="432.3" stroke="#3a3a3a" stroke-width="0.9"/>
<line x1="675.4" y1="428.9" x2="675.4" y2="432.3" stroke="#3a3a3a" stroke-width="0.9"/>
<text x="597.6" y="440.6" font-size="8.1" fill="#2e2e2e" stroke="#2e2e2e" stroke-width="0.26" text-anchor="middle" textLength="12.15" lengthAdjust="spacingAndGlyphs">450</text>
<text x="617.05" y="440.6" font-size="8.1" fill="#2e2e2e" stroke="#2e2e2e" stroke-width="0.26" text-anchor="middle" textLength="12.15" lengthAdjust="spacingAndGlyphs">550</text>
<text x="636.5" y="440.6" font-size="8.1" fill="#2e2e2e" stroke="#2e2e2e" stroke-width="0.26" text-anchor="middle" textLength="12.15" lengthAdjust="spacingAndGlyphs">650</text>
<text x="655.95" y="440.6" font-size="8.1" fill="#2e2e2e" stroke="#2e2e2e" stroke-width="0.26" text-anchor="middle" textLength="12.15" lengthAdjust="spacingAndGlyphs">750</text>
<text x="675.4" y="440.6" font-size="8.1" fill="#2e2e2e" stroke="#2e2e2e" stroke-width="0.26" text-anchor="middle" textLength="12.15" lengthAdjust="spacingAndGlyphs">850</text>
<polyline points="597.9,250.38 598.7,253.54 599.5,255.74 600.8,261.71 601.6,270 602.4,277.13 603.2,285.28 604,295.17 604.85,301.77 605.7,309.47 606.55,309.79 607.4,307.54 608.2,303.32 609,297.65 609.83,296.34 610.67,293.73 611.5,293.07 612.33,289.4 613.17,284.58 614,280.88 614.8,276.64 615.6,271.33 616.4,268.62 617.23,266.43 618.05,264 618.88,261.61 619.7,261.43 620.41,259.82 621.13,259.48 621.84,258.97 622.56,257.81 623.27,257.4 623.99,255.52 624.7,255.5 625.43,254.42 626.17,255.04 626.9,254.56 627.63,252.63 628.37,252.34 629.1,252.13 629.83,253.26 630.57,251.84 631.3,251.85 632.02,251.14 632.75,251.5 633.47,251.2 634.2,251.07 634.92,251.48 635.65,251.42 636.38,252 637.1,251.5 637.83,251.93 638.55,251.73 639.27,251.94 640,250.9" fill="none" stroke="#ee9850" stroke-width="0.9" stroke-linejoin="round" stroke-linecap="round" stroke-dasharray="0.9 0.45"/>
<polyline points="627.6,257.79 628.73,256.01 629.87,260.51 631,261.92 632.12,261.93 633.25,260.51 634.38,261.59 635.5,259.3 636.62,262.12 637.75,260.38 638.88,258.48 640,256.93 641,260.64 642,260.95 643,255.86 644,259.16 645,256.73 646,255.04 647,255.45 648,257.58 649,257.78 650,253.13 651,255.76 652,252.45 653,255.62 654,253.26 655,255.78 656,256 657,253.23 658,255.49 659,251.61 660,250.1 661.04,252.4 662.08,249.02 663.12,249.47 664.16,250.14 665.2,250.2" fill="none" stroke="#d04050" stroke-width="0.75" stroke-linejoin="round" stroke-linecap="round"/>
<polyline points="626.6,246.58 628,241.33 628.8,240.8 629.6,243.47 630.4,241.45 631.2,243.5 632,243.15 632.8,241.28 633.6,241.47 634.4,241.57 635.2,241.89 636,241.63 636.8,241.68 637.6,242.07 638.4,243.34 639.2,242.04 640,241.97 640.8,243.21 641.6,241.83 642.4,242.3 643.2,244.86 644,243.57 644.8,243.86 645.6,242.24 646.4,243.81 647.2,244.57 648,242.87 648.8,245.15 649.6,245.47 650.4,243.78 651.2,245.97 652,245.69 652.8,246.65 653.6,245.78 654.4,247.22 655.2,247.57 656,245.38 656.8,245.75 657.6,248.08 658.4,249.3 659.2,247.11 660,248.05 660.74,248.74 661.49,248.05 662.23,248.42 662.97,248.48 663.71,248.9 664.46,249.9 665.2,249.8" fill="none" stroke="#c01f2e" stroke-width="1.8" stroke-linejoin="round" stroke-linecap="round"/>
<polyline points="597.6,250.6 598.75,245.44 599.9,240.44 601.1,227.21 602.3,214.63 604.2,194.92 605.8,185.9 605.8,185.56 606.6,187.85 607.4,191.35 608.6,196.28 609.8,202.14 610.6,205.22 611.4,208.32 612.2,209.88 613.7,216.18 614.7,220.17 615.7,225.03 616.7,228.29 617.7,232.01 618.7,233.74 619.7,237.01 620.68,239.3 621.65,241.44 622.62,242.39 623.6,243.71 624.46,244.15 625.31,245.51 626.17,245.53 627.03,247.27 627.89,247.95 628.74,247.4 629.6,248.2 630.48,249.33 631.36,249.21 632.23,249.68 633.11,249.03 633.99,248.82 634.87,249.29 635.74,250.37 636.62,249.61 637.5,249.92 638.33,250.09 639.15,250.14 639.98,250.16 640.8,251.12 641.62,249.79 642.45,249.56 643.27,251.29 644.1,251.22 644.92,251.45 645.75,250.5 646.57,251.47 647.4,250.7" fill="none" stroke="#ec862c" stroke-width="1.7" stroke-linejoin="round" stroke-linecap="round"/>
<path d="M597.6,427.5 C597.97,426.37 599.1,426.42 599.8,420.7 C600.5,414.98 601.25,402.82 601.8,393.2 C602.35,383.58 602.7,370.42 603.1,363 C603.5,355.58 603.78,349.62 604.2,348.7 C604.62,347.78 605.08,354.67 605.6,357.5 C606.12,360.33 606.75,364.57 607.3,365.7 C607.85,366.83 608.32,363.38 608.9,364.3 C609.48,365.22 610.02,366.85 610.8,371.2 C611.58,375.55 612.68,384.45 613.6,390.4 C614.52,396.35 615.17,402.08 616.3,406.9 C617.43,411.72 618.8,416.08 620.4,419.3 C622,422.52 623.38,424.6 625.9,426.2 C628.42,427.8 633.9,428.45 635.5,428.9" fill="none" stroke="#ec862c" stroke-width="1.6" stroke-linejoin="round" stroke-linecap="round"/>
<path d="M610.8,424.8 C611.48,424.12 613.52,422.77 614.9,420.7 C616.28,418.63 617.72,416.53 619.1,412.4 C620.48,408.27 621.83,402.77 623.2,395.9 C624.57,389.03 626.02,378.28 627.3,371.2 C628.58,364.12 629.98,357.15 630.9,353.4 C631.82,349.65 631.8,348.93 632.8,348.7 C633.8,348.47 635.53,350.08 636.9,352 C638.27,353.92 639.4,356.08 641,360.2 C642.6,364.32 644.43,370.97 646.5,376.7 C648.57,382.43 650.88,389.1 653.4,394.6 C655.92,400.1 658.85,405.82 661.6,409.7 C664.35,413.58 667.57,415.98 669.9,417.9 C672.23,419.82 674.65,420.65 675.6,421.2" fill="none" stroke="#c01f2e" stroke-width="1.6" stroke-linejoin="round" stroke-linecap="round"/>
<line x1="610.3" y1="349.2" x2="638.3" y2="336.9" stroke="#f0a060" stroke-width="0.7"/>
<line x1="638.8" y1="348.7" x2="660.3" y2="336.9" stroke="#d45560" stroke-width="0.7"/>
<text x="-0.48" y="14" font-size="19" fill="#231f20" stroke="#231f20" stroke-width="0.2" font-weight="bold" textLength="9.18" lengthAdjust="spacingAndGlyphs">a</text>
<text x="313.35" y="14" font-size="19" fill="#231f20" stroke="#231f20" stroke-width="0.2" font-weight="bold" textLength="12.49" lengthAdjust="spacingAndGlyphs">b</text>
<text x="580.27" y="18.1" font-size="19" fill="#231f20" stroke="#231f20" stroke-width="0.2" font-weight="bold" textLength="9.01" lengthAdjust="spacingAndGlyphs">c</text>
<text x="-0.85" y="179" font-size="19" fill="#231f20" stroke="#231f20" stroke-width="0.2" font-weight="bold" textLength="12.61" lengthAdjust="spacingAndGlyphs">d</text>
<text x="-0.71" y="384.6" font-size="19" fill="#231f20" stroke="#231f20" stroke-width="0.2" font-weight="bold" textLength="10.13" lengthAdjust="spacingAndGlyphs">e</text>
<text x="287.62" y="179.6" font-size="19" fill="#231f20" stroke="#231f20" stroke-width="0.2" font-weight="bold" textLength="7.44" lengthAdjust="spacingAndGlyphs">f</text>
<text x="549.28" y="179.8" font-size="19" fill="#231f20" stroke="#231f20" stroke-width="0.2" font-weight="bold" textLength="12.27" lengthAdjust="spacingAndGlyphs">g</text>
<line x1="3.8" y1="154.6" x2="685" y2="154.6" stroke="#6a6a6a" stroke-width="0.9" stroke-dasharray="1.3 0.95"/>
<line x1="3.8" y1="360.2" x2="257" y2="360.2" stroke="#b5b5b5" stroke-width="0.8" stroke-dasharray="1.3 0.95"/>
<text x="326.8" y="69" font-size="8.0" fill="#2e2e2e" stroke="#2e2e2e" stroke-width="0.22" text-anchor="middle" transform="rotate(-90 326.8 66.2)" textLength="49.3" lengthAdjust="spacingAndGlyphs"><tspan font-style="italic">ε</tspan><tspan> (L·mol</tspan><tspan dy="-3.36" font-size="4.64">−1</tspan><tspan dy="3.36">·cm</tspan><tspan dy="-3.36" font-size="4.64">−1</tspan><tspan dy="3.36">)</tspan></text>
<text x="299.6" y="253.9" font-size="8.0" fill="#2e2e2e" stroke="#2e2e2e" stroke-width="0.22" text-anchor="middle" transform="rotate(-90 299.6 251.1)" textLength="54.6" lengthAdjust="spacingAndGlyphs"><tspan>Δ</tspan><tspan font-style="italic">ε</tspan><tspan> (L·mol</tspan><tspan dy="-3.36" font-size="4.64">−1</tspan><tspan dy="3.36">·cm</tspan><tspan dy="-3.36" font-size="4.64">−1</tspan><tspan dy="3.36">)</tspan></text>
<text x="300.4" y="376.5" font-size="8.0" fill="#2e2e2e" stroke="#2e2e2e" stroke-width="0.22" text-anchor="middle" transform="rotate(-90 300.4 373.7)" textLength="52.6" lengthAdjust="spacingAndGlyphs"><tspan font-style="italic">ε</tspan><tspan> (L·mol</tspan><tspan dy="-3.36" font-size="4.64">−1</tspan><tspan dy="3.36">·cm</tspan><tspan dy="-3.36" font-size="4.64">−1</tspan><tspan dy="3.36">)</tspan></text>
<text x="585" y="71.1" font-size="8.0" fill="#2e2e2e" stroke="#2e2e2e" stroke-width="0.22" text-anchor="middle" transform="rotate(-90 585 68.3)" textLength="37" lengthAdjust="spacingAndGlyphs"><tspan font-style="italic">I</tspan><tspan> (arb. unit)</tspan></text>
<text x="563.1" y="253.5" font-size="8.0" fill="#2e2e2e" stroke="#2e2e2e" stroke-width="0.22" text-anchor="middle" transform="rotate(-90 563.1 250.7)" textLength="41.5" lengthAdjust="spacingAndGlyphs"><tspan>Δ</tspan><tspan font-style="italic">I</tspan><tspan> (arb. unit)</tspan></text>
<text x="562.4" y="375.6" font-size="8.0" fill="#2e2e2e" stroke="#2e2e2e" stroke-width="0.22" text-anchor="middle" transform="rotate(-90 562.4 372.8)" textLength="36.5" lengthAdjust="spacingAndGlyphs"><tspan font-style="italic">I</tspan><tspan> (arb. unit)</tspan></text>
<text x="442.6" y="147.9" font-size="7.6" fill="#2e2e2e" stroke="#2e2e2e" stroke-width="0.26" textLength="21.2" lengthAdjust="spacingAndGlyphs"><tspan font-style="italic">λ</tspan><tspan> (nm)</tspan></text>
<text x="630.5" y="148.3" font-size="7.6" fill="#2e2e2e" stroke="#2e2e2e" stroke-width="0.26" textLength="21.4" lengthAdjust="spacingAndGlyphs"><tspan font-style="italic">λ</tspan><tspan> (nm)</tspan></text>
<text x="416.9" y="453.3" font-size="7.6" fill="#2e2e2e" stroke="#2e2e2e" stroke-width="0.26" textLength="21.2" lengthAdjust="spacingAndGlyphs"><tspan font-style="italic">λ</tspan><tspan> (nm)</tspan></text>
<text x="626.4" y="453.3" font-size="7.6" fill="#2e2e2e" stroke="#2e2e2e" stroke-width="0.26" textLength="21.2" lengthAdjust="spacingAndGlyphs"><tspan font-style="italic">λ</tspan><tspan> (nm)</tspan></text>
<text x="608.2" y="20.8" font-size="9.2" fill="#1f8f3a" stroke="#1f8f3a" stroke-width="0.26" textLength="31" lengthAdjust="spacingAndGlyphs">552 nm</text>
<text x="643.8" y="20.8" font-size="9.2" fill="#3a8fd8" stroke="#3a8fd8" stroke-width="0.26" textLength="31.2" lengthAdjust="spacingAndGlyphs">572 nm</text>
<text x="453.8" y="87.5" font-size="9.4" fill="#1f8f3a" stroke="#1f8f3a" stroke-width="0.2" font-weight="bold" textLength="25.8" lengthAdjust="spacingAndGlyphs">OO8H</text>
<text x="502.9" y="96.3" font-size="9.4" fill="#3a8fd8" stroke="#3a8fd8" stroke-width="0.2" font-weight="bold" textLength="33.1" lengthAdjust="spacingAndGlyphs"><tspan>OO8H</tspan><tspan dy="1.22" font-size="5.83">mt</tspan></text>
<text x="438.1" y="222.6" font-size="8.6" fill="#ec862c" stroke="#ec862c" stroke-width="0.2" font-weight="bold" textLength="31.2" lengthAdjust="spacingAndGlyphs"><tspan font-style="italic" font-weight="normal">P</tspan><tspan font-weight="normal">-</tspan><tspan>O8H</tspan><tspan dy="1.12" font-size="5.33">a</tspan></text>
<text x="463.3" y="241.2" font-size="8.6" fill="#c01f2e" stroke="#c01f2e" stroke-width="0.2" font-weight="bold" textLength="41" lengthAdjust="spacingAndGlyphs"><tspan font-style="italic" font-weight="normal">P</tspan><tspan font-weight="normal">-</tspan><tspan>O8H</tspan><tspan dy="1.12" font-size="5.33">a</tspan><tspan dy="-1.12">H</tspan><tspan dy="-3.61" font-size="4.99">+</tspan></text>
<text x="462.1" y="267.6" font-size="8.6" fill="#c01f2e" stroke="#c01f2e" stroke-width="0.2" font-weight="bold" textLength="43.7" lengthAdjust="spacingAndGlyphs"><tspan font-style="italic" font-weight="normal">M</tspan><tspan font-weight="normal">-</tspan><tspan>O8H</tspan><tspan dy="1.12" font-size="5.33">a</tspan><tspan dy="-1.12">H</tspan><tspan dy="-3.61" font-size="4.99">+</tspan></text>
<text x="437.4" y="283.8" font-size="8.6" fill="#ec862c" stroke="#ec862c" stroke-width="0.2" font-weight="bold" textLength="31.7" lengthAdjust="spacingAndGlyphs"><tspan font-style="italic" font-weight="normal">M</tspan><tspan font-weight="normal">-</tspan><tspan>O8H</tspan><tspan dy="1.12" font-size="5.33">a</tspan></text>
<text x="612.7" y="191.6" font-size="8.6" fill="#ec862c" stroke="#ec862c" stroke-width="0.2" font-weight="bold" textLength="31.7" lengthAdjust="spacingAndGlyphs"><tspan font-style="italic" font-weight="normal">P</tspan><tspan font-weight="normal">-</tspan><tspan>O8H</tspan><tspan dy="1.12" font-size="5.33">a</tspan></text>
<text x="628.6" y="231.8" font-size="8.6" fill="#c01f2e" stroke="#c01f2e" stroke-width="0.2" font-weight="bold" textLength="40.4" lengthAdjust="spacingAndGlyphs"><tspan font-style="italic" font-weight="normal">P</tspan><tspan font-weight="normal">-</tspan><tspan>O8H</tspan><tspan dy="1.12" font-size="5.33">a</tspan><tspan dy="-1.12">H</tspan><tspan dy="-3.61" font-size="4.99">+</tspan></text>
<text x="627.6" y="271.8" font-size="8.6" fill="#c01f2e" stroke="#c01f2e" stroke-width="0.2" font-weight="bold" textLength="43.4" lengthAdjust="spacingAndGlyphs"><tspan font-style="italic" font-weight="normal">M</tspan><tspan font-weight="normal">-</tspan><tspan>O8H</tspan><tspan dy="1.12" font-size="5.33">a</tspan><tspan dy="-1.12">H</tspan><tspan dy="-3.61" font-size="4.99">+</tspan></text>
<text x="598.9" y="323" font-size="8.6" fill="#ec862c" stroke="#ec862c" stroke-width="0.2" font-weight="bold" textLength="33.6" lengthAdjust="spacingAndGlyphs"><tspan font-style="italic" font-weight="normal">M</tspan><tspan font-weight="normal">-</tspan><tspan>O8H</tspan><tspan dy="1.12" font-size="5.33">a</tspan></text>
<text x="403.3" y="357.4" font-size="9.4" fill="#ec862c" stroke="#ec862c" stroke-width="0.2" font-weight="bold" textLength="21.8" lengthAdjust="spacingAndGlyphs"><tspan>O8H</tspan><tspan dy="1.22" font-size="5.83">a</tspan></text>
<text x="476.4" y="357.4" font-size="9.4" fill="#c01f2e" stroke="#c01f2e" stroke-width="0.2" font-weight="bold" textLength="32.2" lengthAdjust="spacingAndGlyphs"><tspan>O8H</tspan><tspan dy="1.22" font-size="5.83">a</tspan><tspan dy="-1.22">H</tspan><tspan dy="-3.95" font-size="5.45">+</tspan></text>
<text x="442.2" y="329.6" font-size="4.6" fill="#231f20" stroke="#231f20" stroke-width="0.2" font-weight="bold" textLength="22.8" lengthAdjust="spacingAndGlyphs"><tspan>CF</tspan><tspan dy="0.6" font-size="2.85">3</tspan><tspan dy="-0.6">COOH</tspan></text>
<text x="447.9" y="341.3" font-size="4.6" fill="#231f20" stroke="#231f20" stroke-width="0.2" font-weight="bold" textLength="11.4" lengthAdjust="spacingAndGlyphs"><tspan>NEt</tspan><tspan dy="0.6" font-size="2.85">3</tspan></text>
<line x1="438.4" y1="332.2" x2="465.9" y2="332.2" stroke="#231f20" stroke-width="0.75"/>
<path d="M468.8,332.2 L464.8,330.9 L465.6,332.2 L464.8,333.5 Z" fill="#231f20"/>
<line x1="441.5" y1="334.8" x2="468.8" y2="334.8" stroke="#231f20" stroke-width="0.7"/>
<path d="M438.4,334.8 L442.4,333.5 L441.3,334.8 L442.4,336.1 Z" fill="#231f20"/>
<text x="107.3" y="52.6" font-size="9.0" fill="#231f20" stroke="#231f20" stroke-width="0.26" textLength="48.4" lengthAdjust="spacingAndGlyphs">1.0 eq. DDQ</text>
<text x="115.8" y="63.9" font-size="9.0" fill="#231f20" stroke="#231f20" stroke-width="0.26" textLength="34.1" lengthAdjust="spacingAndGlyphs"><tspan>CF</tspan><tspan dy="1.17" font-size="5.58">3</tspan><tspan dy="-1.17">SO</tspan><tspan dy="1.17" font-size="5.58">3</tspan><tspan dy="-1.17">H</tspan></text>
<line x1="102" y1="67.7" x2="162.3" y2="67.7" stroke="#231f20" stroke-width="1.25"/>
<path d="M167.4,67.7 L160.4,65.6 L162,67.7 L160.4,69.8 Z" fill="#231f20"/>
<text x="106.1" y="77.4" font-size="9.0" fill="#231f20" stroke="#231f20" stroke-width="0.26" textLength="53.1" lengthAdjust="spacingAndGlyphs"><tspan>CH</tspan><tspan dy="1.17" font-size="5.58">2</tspan><tspan dy="-1.17">Cl</tspan><tspan dy="1.17" font-size="5.58">2</tspan><tspan dy="-1.17">, 20 °C</tspan></text>
<text x="43.6" y="108.8" font-size="12.6" fill="#231f20" stroke="#231f20" stroke-width="0.2" font-weight="bold" textLength="25.4" lengthAdjust="spacingAndGlyphs"><tspan>8H</tspan><tspan dy="1.64" font-size="7.81">mt</tspan></text>
<text x="239.7" y="50.3" font-size="11.8" fill="#231f20" stroke="#231f20" stroke-width="0.2" font-weight="bold" textLength="35.3" lengthAdjust="spacingAndGlyphs"><tspan>O8H</tspan><tspan dy="1.53" font-size="7.32">mt</tspan></text>
<text x="240.2" y="62.6" font-size="9.6" fill="#4d4d4d" stroke="#4d4d4d" stroke-width="0.26" textLength="40.9" lengthAdjust="spacingAndGlyphs">Yield: 21%</text>
<text x="239.7" y="128.9" font-size="11.8" fill="#231f20" stroke="#231f20" stroke-width="0.2" font-weight="bold" textLength="44.5" lengthAdjust="spacingAndGlyphs"><tspan>OO8H</tspan><tspan dy="1.53" font-size="7.32">mt</tspan></text>
<text x="240.2" y="141.2" font-size="9.6" fill="#4d4d4d" stroke="#4d4d4d" stroke-width="0.26" textLength="40.9" lengthAdjust="spacingAndGlyphs">Yield: 13%</text>
<text x="204.1" y="70.6" font-size="9.5" fill="#231f20" stroke="#231f20" stroke-width="0.26" text-anchor="middle">+</text>
<text x="102.4" y="189.2" font-size="9.0" fill="#231f20" stroke="#231f20" stroke-width="0.26" textLength="61.1" lengthAdjust="spacingAndGlyphs">(1) 1.2 eq. DDQ</text>
<text x="101.2" y="199.6" font-size="9.0" fill="#231f20" stroke="#231f20" stroke-width="0.26" textLength="66.1" lengthAdjust="spacingAndGlyphs"><tspan>CF</tspan><tspan dy="1.17" font-size="5.58">3</tspan><tspan dy="-1.17">SO</tspan><tspan dy="1.17" font-size="5.58">3</tspan><tspan dy="-1.17">H</tspan><tspan>, CH</tspan><tspan dy="1.17" font-size="5.58">2</tspan><tspan dy="-1.17">Cl</tspan><tspan dy="1.17" font-size="5.58">2</tspan></text>
<line x1="103.5" y1="203.3" x2="163.7" y2="203.3" stroke="#231f20" stroke-width="1.25"/>
<path d="M168.8,203.3 L161.8,201.2 L163.4,203.3 L161.8,205.4 Z" fill="#231f20"/>
<text x="114.7" y="213.5" font-size="9.0" fill="#231f20" stroke="#231f20" stroke-width="0.26" textLength="38.8" lengthAdjust="spacingAndGlyphs">(2) NaOH</text>
<text x="114.2" y="228.5" font-size="9.6" fill="#4d4d4d" stroke="#4d4d4d" stroke-width="0.26" textLength="41.6" lengthAdjust="spacingAndGlyphs">Yield: 26%</text>
<text x="115" y="239.6" font-size="9.4" fill="#4d4d4d" stroke="#4d4d4d" stroke-width="0.26" textLength="39.2" lengthAdjust="spacingAndGlyphs"><tspan font-style="italic">e.e.</tspan><tspan> &gt;99%</tspan></text>
<text x="46.2" y="239.9" font-size="12.6" fill="#231f20" stroke="#231f20" stroke-width="0.2" font-weight="bold" textLength="19.9" lengthAdjust="spacingAndGlyphs"><tspan>8H</tspan><tspan dy="1.64" font-size="7.81">a</tspan></text>
<text x="207.9" y="239.4" font-size="12.0" fill="#231f20" stroke="#231f20" stroke-width="0.2" font-weight="bold" textLength="29.1" lengthAdjust="spacingAndGlyphs"><tspan>O8H</tspan><tspan dy="1.56" font-size="7.44">a</tspan></text>
<text x="195.6" y="250.5" font-size="9.4" fill="#231f20" stroke="#231f20" stroke-width="0.26" textLength="53.2" lengthAdjust="spacingAndGlyphs">Only product</text>
<text x="16.6" y="266.6" font-size="9.6" fill="#6e2d98" stroke="#6e2d98" stroke-width="0.26" textLength="35.1" lengthAdjust="spacingAndGlyphs"><tspan>CF</tspan><tspan dy="1.25" font-size="5.95">3</tspan><tspan dy="-1.25">SO</tspan><tspan dy="1.25" font-size="5.95">3</tspan><tspan dy="-1.25">H</tspan></text>
<text x="60.4" y="266.6" font-size="9.6" fill="#6e2d98" stroke="#6e2d98" stroke-width="0.26" textLength="48.2" lengthAdjust="spacingAndGlyphs">Protonation</text>
<line x1="56.3" y1="255.4" x2="56.3" y2="268.3" stroke="#6e2d98" stroke-width="1.15"/>
<path d="M56.3,272.9 L54.6,266.8 L56.3,268 L58,266.8 Z" fill="#6e2d98"/>
<text x="158.8" y="266.6" font-size="9.6" fill="#6e2d98" stroke="#6e2d98" stroke-width="0.26" textLength="58.6" lengthAdjust="spacingAndGlyphs">Deprotonation</text>
<text x="226.7" y="266.6" font-size="9.6" fill="#6e2d98" stroke="#6e2d98" stroke-width="0.26" textLength="24.6" lengthAdjust="spacingAndGlyphs">NaOH</text>
<line x1="221.8" y1="272.8" x2="221.8" y2="260.7" stroke="#6e2d98" stroke-width="1.15"/>
<path d="M221.8,256.1 L220.1,262.2 L221.8,261 L223.5,262.2 Z" fill="#6e2d98"/>
<text x="101.8" y="298.4" font-size="9.0" fill="#6e2d98" stroke="#6e2d98" stroke-width="0.26" textLength="61.8" lengthAdjust="spacingAndGlyphs">Rearrangement</text>
<line x1="101.8" y1="303.4" x2="162.4" y2="303.4" stroke="#6e2d98" stroke-width="1.25"/>
<path d="M167.5,303.4 L160.5,301.3 L162.1,303.4 L160.5,305.5 Z" fill="#6e2d98"/>
<text x="100.5" y="314.2" font-size="9.0" fill="#6e2d98" stroke="#6e2d98" stroke-width="0.26" textLength="64.4" lengthAdjust="spacingAndGlyphs"><tspan>CF</tspan><tspan dy="1.17" font-size="5.58">3</tspan><tspan dy="-1.17">SO</tspan><tspan dy="1.17" font-size="5.58">3</tspan><tspan dy="-1.17">H</tspan><tspan> +DDQ</tspan></text>
<text x="39.9" y="348.4" font-size="12.6" fill="#231f20" stroke="#231f20" stroke-width="0.2" font-weight="bold" textLength="33.4" lengthAdjust="spacingAndGlyphs"><tspan>8H</tspan><tspan dy="1.64" font-size="7.81">a</tspan><tspan dy="-1.64" font-weight="normal">H</tspan><tspan dy="-5.29" font-size="7.31" font-weight="normal">+</tspan></text>
<text x="200.9" y="348.9" font-size="12.0" fill="#231f20" stroke="#231f20" stroke-width="0.2" font-weight="bold" textLength="40.8" lengthAdjust="spacingAndGlyphs"><tspan>O8H</tspan><tspan dy="1.56" font-size="7.44">a</tspan><tspan dy="-1.56" font-weight="normal">H</tspan><tspan dy="-5.04" font-size="6.96" font-weight="normal">+</tspan></text>
<text x="102.2" y="389.2" font-size="9.0" fill="#231f20" stroke="#231f20" stroke-width="0.26" textLength="61.3" lengthAdjust="spacingAndGlyphs">(1) 1.2 eq. DDQ</text>
<text x="100.9" y="400" font-size="9.0" fill="#231f20" stroke="#231f20" stroke-width="0.26" textLength="66.6" lengthAdjust="spacingAndGlyphs"><tspan>CF</tspan><tspan dy="1.17" font-size="5.58">3</tspan><tspan dy="-1.17">SO</tspan><tspan dy="1.17" font-size="5.58">3</tspan><tspan dy="-1.17">H</tspan><tspan>, CH</tspan><tspan dy="1.17" font-size="5.58">2</tspan><tspan dy="-1.17">Cl</tspan><tspan dy="1.17" font-size="5.58">2</tspan></text>
<line x1="103.6" y1="403.3" x2="163.7" y2="403.3" stroke="#231f20" stroke-width="1.25"/>
<path d="M168.8,403.3 L161.8,401.2 L163.4,403.3 L161.8,405.4 Z" fill="#231f20"/>
<text x="114.5" y="413.9" font-size="9.0" fill="#231f20" stroke="#231f20" stroke-width="0.26" textLength="38.5" lengthAdjust="spacingAndGlyphs">(2) NaOH</text>
<text x="114.1" y="429.3" font-size="9.6" fill="#4d4d4d" stroke="#4d4d4d" stroke-width="0.26" textLength="41.5" lengthAdjust="spacingAndGlyphs">Yield: 46%</text>
<text x="44.8" y="440.5" font-size="12.6" fill="#231f20" stroke="#231f20" stroke-width="0.2" font-weight="bold" textLength="23" lengthAdjust="spacingAndGlyphs"><tspan>8H</tspan><tspan dy="1.64" font-size="7.81">ta</tspan></text>
<text x="206.3" y="440.5" font-size="12.0" fill="#231f20" stroke="#231f20" stroke-width="0.2" font-weight="bold" textLength="31.7" lengthAdjust="spacingAndGlyphs"><tspan>O8H</tspan><tspan dy="1.56" font-size="7.44">ta</tspan></text>
<text x="195.6" y="451.3" font-size="9.4" fill="#231f20" stroke="#231f20" stroke-width="0.26" textLength="53.2" lengthAdjust="spacingAndGlyphs">Only product</text>
<line x1="198.1" y1="182.3" x2="206.5" y2="178.5" stroke="#241d1e" stroke-width="1.2" stroke-linecap="round"/>
<line x1="206.5" y1="178.5" x2="213.5" y2="183.1" stroke="#241d1e" stroke-width="1.2" stroke-linecap="round"/>
<line x1="213.5" y1="183.1" x2="213.5" y2="192.3" stroke="#241d1e" stroke-width="1.2" stroke-linecap="round"/>
<line x1="213.5" y1="192.3" x2="205" y2="196.2" stroke="#241d1e" stroke-width="1.2" stroke-linecap="round"/>
<line x1="205" y1="196.2" x2="198.1" y2="191.5" stroke="#241d1e" stroke-width="1.2" stroke-linecap="round"/>
<line x1="198.1" y1="191.5" x2="198.1" y2="182.3" stroke="#241d1e" stroke-width="1.2" stroke-linecap="round"/>
<line x1="200.73" y1="183.64" x2="205.77" y2="181.36" stroke="#241d1e" stroke-width="1.0"/>
<line x1="213.5" y1="183.1" x2="221.9" y2="179.2" stroke="#241d1e" stroke-width="1.2" stroke-linecap="round"/>
<line x1="221.9" y1="179.2" x2="229.5" y2="183.5" stroke="#241d1e" stroke-width="1.2" stroke-linecap="round"/>
<line x1="229.5" y1="183.5" x2="229.5" y2="193.1" stroke="#241d1e" stroke-width="1.2" stroke-linecap="round"/>
<line x1="229.5" y1="193.1" x2="221" y2="197.4" stroke="#241d1e" stroke-width="1.2" stroke-linecap="round"/>
<line x1="221" y1="197.4" x2="213.5" y2="192.3" stroke="#241d1e" stroke-width="1.2" stroke-linecap="round"/>
<line x1="216.15" y1="184.41" x2="221.19" y2="182.07" stroke="#241d1e" stroke-width="1.0"/>
<line x1="227.2" y1="185.42" x2="227.2" y2="191.18" stroke="#241d1e" stroke-width="1.0"/>
<line x1="229.5" y1="183.5" x2="237.4" y2="178.6" stroke="#241d1e" stroke-width="1.2" stroke-linecap="round"/>
<line x1="237.4" y1="178.6" x2="245.8" y2="183.5" stroke="#241d1e" stroke-width="1.2" stroke-linecap="round"/>
<line x1="245.8" y1="183.5" x2="246.4" y2="192.5" stroke="#241d1e" stroke-width="1.2" stroke-linecap="round"/>
<line x1="246.4" y1="192.5" x2="238" y2="197.4" stroke="#241d1e" stroke-width="1.2" stroke-linecap="round"/>
<line x1="238" y1="197.4" x2="229.5" y2="193.1" stroke="#241d1e" stroke-width="1.2" stroke-linecap="round"/>
<line x1="237.92" y1="181.57" x2="242.96" y2="184.51" stroke="#241d1e" stroke-width="1.0"/>
<line x1="243.56" y1="191.49" x2="238.52" y2="194.43" stroke="#241d1e" stroke-width="1.0"/>
<line x1="188.8" y1="193.8" x2="198.1" y2="191.5" stroke="#241d1e" stroke-width="1.2" stroke-linecap="round"/>
<line x1="205" y1="196.2" x2="204.2" y2="206.2" stroke="#241d1e" stroke-width="1.2" stroke-linecap="round"/>
<line x1="204.2" y1="206.2" x2="195.8" y2="209.2" stroke="#241d1e" stroke-width="1.2" stroke-linecap="round"/>
<line x1="195.8" y1="209.2" x2="188.8" y2="204.6" stroke="#241d1e" stroke-width="1.2" stroke-linecap="round"/>
<line x1="188.8" y1="204.6" x2="188.8" y2="193.8" stroke="#241d1e" stroke-width="1.2" stroke-linecap="round"/>
<line x1="191.21" y1="195.57" x2="196.79" y2="194.19" stroke="#241d1e" stroke-width="1.0"/>
<line x1="191.1" y1="202.44" x2="191.1" y2="195.96" stroke="#241d1e" stroke-width="1.0"/>
<line x1="221" y1="197.4" x2="219.8" y2="207" stroke="#241d1e" stroke-width="1.2" stroke-linecap="round"/>
<line x1="219.8" y1="207" x2="211.9" y2="210" stroke="#241d1e" stroke-width="1.2" stroke-linecap="round"/>
<line x1="211.9" y1="210" x2="204.2" y2="206.2" stroke="#241d1e" stroke-width="1.2" stroke-linecap="round"/>
<line x1="207.66" y1="197.51" x2="212.76" y2="195.17" stroke="#241d1e" stroke-width="1.0"/>
<line x1="206.65" y1="204.38" x2="207.13" y2="198.38" stroke="#241d1e" stroke-width="1.0"/>
<line x1="211.9" y1="210" x2="210.4" y2="220.8" stroke="#241d1e" stroke-width="1.2" stroke-linecap="round"/>
<line x1="210.4" y1="220.8" x2="202.7" y2="223.1" stroke="#241d1e" stroke-width="1.2" stroke-linecap="round"/>
<line x1="202.7" y1="223.1" x2="195" y2="217.7" stroke="#241d1e" stroke-width="1.2" stroke-linecap="round"/>
<line x1="195" y1="217.7" x2="195.8" y2="209.2" stroke="#241d1e" stroke-width="1.2" stroke-linecap="round"/>
<line x1="202.48" y1="220.14" x2="197.86" y2="216.9" stroke="#241d1e" stroke-width="1.0"/>
<line x1="219.8" y1="207" x2="227.1" y2="213.7" stroke="#241d1e" stroke-width="1.2" stroke-linecap="round"/>
<line x1="227.1" y1="213.7" x2="225.9" y2="222.7" stroke="#241d1e" stroke-width="1.2" stroke-linecap="round"/>
<line x1="225.9" y1="222.7" x2="217.4" y2="225.7" stroke="#241d1e" stroke-width="1.2" stroke-linecap="round"/>
<line x1="217.4" y1="225.7" x2="210.4" y2="220.8" stroke="#241d1e" stroke-width="1.2" stroke-linecap="round"/>
<line x1="214.3" y1="211.55" x2="219.04" y2="209.75" stroke="#241d1e" stroke-width="1.0"/>
<line x1="224.58" y1="215.2" x2="223.86" y2="220.6" stroke="#241d1e" stroke-width="1.0"/>
<line x1="217.32" y1="222.84" x2="213.12" y2="219.9" stroke="#241d1e" stroke-width="1.0"/>
<line x1="246.4" y1="192.5" x2="254.9" y2="196.1" stroke="#241d1e" stroke-width="1.2" stroke-linecap="round"/>
<line x1="254.9" y1="196.1" x2="255.5" y2="205.2" stroke="#241d1e" stroke-width="1.2" stroke-linecap="round"/>
<line x1="255.5" y1="205.2" x2="248.2" y2="210" stroke="#241d1e" stroke-width="1.2" stroke-linecap="round"/>
<line x1="248.2" y1="210" x2="239.2" y2="207" stroke="#241d1e" stroke-width="1.2" stroke-linecap="round"/>
<line x1="239.2" y1="207" x2="238" y2="197.4" stroke="#241d1e" stroke-width="1.2" stroke-linecap="round"/>
<line x1="252.72" y1="198.07" x2="253.08" y2="203.53" stroke="#241d1e" stroke-width="1.0"/>
<line x1="247.13" y1="207.22" x2="241.73" y2="205.42" stroke="#241d1e" stroke-width="1.0"/>
<line x1="243" y1="225.2" x2="233.8" y2="222.7" stroke="#241d1e" stroke-width="1.2" stroke-linecap="round"/>
<line x1="233.8" y1="222.7" x2="232" y2="213.2" stroke="#241d1e" stroke-width="1.2" stroke-linecap="round"/>
<line x1="232" y1="213.2" x2="239.2" y2="207" stroke="#241d1e" stroke-width="1.2" stroke-linecap="round"/>
<line x1="235.7" y1="220.37" x2="234.62" y2="214.67" stroke="#241d1e" stroke-width="1.0"/>
<line x1="248.2" y1="210" x2="249" y2="215.3" stroke="#241d1e" stroke-width="1.2" stroke-linecap="round"/>
<line x1="245.6" y1="222.6" x2="243" y2="225.2" stroke="#241d1e" stroke-width="1.2" stroke-linecap="round"/>
<line x1="242.2" y1="223.4" x2="244.4" y2="221.3" stroke="#241d1e" stroke-width="1.0"/>
<text x="249.8" y="224.41" font-size="9.202" fill="#d0202e" stroke="#d0202e" stroke-width="0.2" font-weight="bold" text-anchor="middle">N</text>
<line x1="195.8" y1="282.7" x2="204.2" y2="278.9" stroke="#241d1e" stroke-width="1.2" stroke-linecap="round"/>
<line x1="204.2" y1="278.9" x2="211.2" y2="283.5" stroke="#241d1e" stroke-width="1.2" stroke-linecap="round"/>
<line x1="211.2" y1="283.5" x2="211.2" y2="292.7" stroke="#241d1e" stroke-width="1.2" stroke-linecap="round"/>
<line x1="211.2" y1="292.7" x2="202.7" y2="296.6" stroke="#241d1e" stroke-width="1.2" stroke-linecap="round"/>
<line x1="202.7" y1="296.6" x2="195.8" y2="291.9" stroke="#241d1e" stroke-width="1.2" stroke-linecap="round"/>
<line x1="195.8" y1="291.9" x2="195.8" y2="282.7" stroke="#241d1e" stroke-width="1.2" stroke-linecap="round"/>
<line x1="198.43" y1="284.04" x2="203.47" y2="281.76" stroke="#241d1e" stroke-width="1.0"/>
<line x1="211.2" y1="283.5" x2="219.6" y2="279.6" stroke="#241d1e" stroke-width="1.2" stroke-linecap="round"/>
<line x1="219.6" y1="279.6" x2="227.2" y2="283.9" stroke="#241d1e" stroke-width="1.2" stroke-linecap="round"/>
<line x1="227.2" y1="283.9" x2="227.2" y2="293.5" stroke="#241d1e" stroke-width="1.2" stroke-linecap="round"/>
<line x1="227.2" y1="293.5" x2="218.7" y2="297.8" stroke="#241d1e" stroke-width="1.2" stroke-linecap="round"/>
<line x1="218.7" y1="297.8" x2="211.2" y2="292.7" stroke="#241d1e" stroke-width="1.2" stroke-linecap="round"/>
<line x1="213.85" y1="284.81" x2="218.89" y2="282.47" stroke="#241d1e" stroke-width="1.0"/>
<line x1="224.9" y1="285.82" x2="224.9" y2="291.58" stroke="#241d1e" stroke-width="1.0"/>
<line x1="227.2" y1="283.9" x2="235.1" y2="279" stroke="#241d1e" stroke-width="1.2" stroke-linecap="round"/>
<line x1="235.1" y1="279" x2="243.5" y2="283.9" stroke="#241d1e" stroke-width="1.2" stroke-linecap="round"/>
<line x1="243.5" y1="283.9" x2="244.1" y2="292.9" stroke="#241d1e" stroke-width="1.2" stroke-linecap="round"/>
<line x1="244.1" y1="292.9" x2="235.7" y2="297.8" stroke="#241d1e" stroke-width="1.2" stroke-linecap="round"/>
<line x1="235.7" y1="297.8" x2="227.2" y2="293.5" stroke="#241d1e" stroke-width="1.2" stroke-linecap="round"/>
<line x1="235.62" y1="281.97" x2="240.66" y2="284.91" stroke="#241d1e" stroke-width="1.0"/>
<line x1="241.26" y1="291.89" x2="236.22" y2="294.83" stroke="#241d1e" stroke-width="1.0"/>
<line x1="186.5" y1="294.2" x2="195.8" y2="291.9" stroke="#241d1e" stroke-width="1.2" stroke-linecap="round"/>
<line x1="202.7" y1="296.6" x2="201.9" y2="306.6" stroke="#241d1e" stroke-width="1.2" stroke-linecap="round"/>
<line x1="201.9" y1="306.6" x2="193.5" y2="309.6" stroke="#241d1e" stroke-width="1.2" stroke-linecap="round"/>
<line x1="193.5" y1="309.6" x2="186.5" y2="305" stroke="#241d1e" stroke-width="1.2" stroke-linecap="round"/>
<line x1="186.5" y1="305" x2="186.5" y2="294.2" stroke="#241d1e" stroke-width="1.2" stroke-linecap="round"/>
<line x1="188.91" y1="295.97" x2="194.49" y2="294.59" stroke="#241d1e" stroke-width="1.0"/>
<line x1="188.8" y1="302.84" x2="188.8" y2="296.36" stroke="#241d1e" stroke-width="1.0"/>
<line x1="218.7" y1="297.8" x2="217.5" y2="307.4" stroke="#241d1e" stroke-width="1.2" stroke-linecap="round"/>
<line x1="217.5" y1="307.4" x2="209.6" y2="310.4" stroke="#241d1e" stroke-width="1.2" stroke-linecap="round"/>
<line x1="209.6" y1="310.4" x2="201.9" y2="306.6" stroke="#241d1e" stroke-width="1.2" stroke-linecap="round"/>
<line x1="205.36" y1="297.91" x2="210.46" y2="295.57" stroke="#241d1e" stroke-width="1.0"/>
<line x1="204.35" y1="304.78" x2="204.83" y2="298.78" stroke="#241d1e" stroke-width="1.0"/>
<line x1="209.6" y1="310.4" x2="208.1" y2="321.2" stroke="#241d1e" stroke-width="1.2" stroke-linecap="round"/>
<line x1="208.1" y1="321.2" x2="200.4" y2="323.5" stroke="#241d1e" stroke-width="1.2" stroke-linecap="round"/>
<line x1="200.4" y1="323.5" x2="192.7" y2="318.1" stroke="#241d1e" stroke-width="1.2" stroke-linecap="round"/>
<line x1="192.7" y1="318.1" x2="193.5" y2="309.6" stroke="#241d1e" stroke-width="1.2" stroke-linecap="round"/>
<line x1="200.18" y1="320.54" x2="195.56" y2="317.3" stroke="#241d1e" stroke-width="1.0"/>
<line x1="217.5" y1="307.4" x2="224.8" y2="314.1" stroke="#241d1e" stroke-width="1.2" stroke-linecap="round"/>
<line x1="224.8" y1="314.1" x2="223.6" y2="323.1" stroke="#241d1e" stroke-width="1.2" stroke-linecap="round"/>
<line x1="223.6" y1="323.1" x2="215.1" y2="326.1" stroke="#241d1e" stroke-width="1.2" stroke-linecap="round"/>
<line x1="215.1" y1="326.1" x2="208.1" y2="321.2" stroke="#241d1e" stroke-width="1.2" stroke-linecap="round"/>
<line x1="212" y1="311.95" x2="216.74" y2="310.15" stroke="#241d1e" stroke-width="1.0"/>
<line x1="222.28" y1="315.6" x2="221.56" y2="321" stroke="#241d1e" stroke-width="1.0"/>
<line x1="215.02" y1="323.24" x2="210.82" y2="320.3" stroke="#241d1e" stroke-width="1.0"/>
<line x1="244.1" y1="292.9" x2="252.6" y2="296.5" stroke="#241d1e" stroke-width="1.2" stroke-linecap="round"/>
<line x1="252.6" y1="296.5" x2="253.2" y2="305.6" stroke="#241d1e" stroke-width="1.2" stroke-linecap="round"/>
<line x1="253.2" y1="305.6" x2="245.9" y2="310.4" stroke="#241d1e" stroke-width="1.2" stroke-linecap="round"/>
<line x1="245.9" y1="310.4" x2="236.9" y2="307.4" stroke="#241d1e" stroke-width="1.2" stroke-linecap="round"/>
<line x1="236.9" y1="307.4" x2="235.7" y2="297.8" stroke="#241d1e" stroke-width="1.2" stroke-linecap="round"/>
<line x1="250.42" y1="298.47" x2="250.78" y2="303.93" stroke="#241d1e" stroke-width="1.0"/>
<line x1="244.83" y1="307.62" x2="239.43" y2="305.82" stroke="#241d1e" stroke-width="1.0"/>
<line x1="240.7" y1="325.6" x2="231.5" y2="323.1" stroke="#241d1e" stroke-width="1.2" stroke-linecap="round"/>
<line x1="231.5" y1="323.1" x2="229.7" y2="313.6" stroke="#241d1e" stroke-width="1.2" stroke-linecap="round"/>
<line x1="229.7" y1="313.6" x2="236.9" y2="307.4" stroke="#241d1e" stroke-width="1.2" stroke-linecap="round"/>
<line x1="233.4" y1="320.77" x2="232.32" y2="315.07" stroke="#241d1e" stroke-width="1.0"/>
<line x1="245.9" y1="310.4" x2="246.7" y2="315.7" stroke="#241d1e" stroke-width="1.2" stroke-linecap="round"/>
<line x1="243.3" y1="323" x2="240.7" y2="325.6" stroke="#241d1e" stroke-width="1.2" stroke-linecap="round"/>
<line x1="239.9" y1="323.8" x2="242.1" y2="321.7" stroke="#241d1e" stroke-width="1.0"/>
<text x="251.6" y="324.99" font-size="9.416000000000002" fill="#d0202e" stroke="#d0202e" stroke-width="0.2" font-weight="bold" text-anchor="middle" textLength="13.3" lengthAdjust="spacingAndGlyphs">NH</text>
<text x="249.8" y="316" font-size="6.5" fill="#d0202e" stroke="#d0202e" stroke-width="0.2" font-weight="bold" text-anchor="middle">+</text>
<line x1="198.1" y1="383" x2="206.5" y2="379.2" stroke="#241d1e" stroke-width="1.2" stroke-linecap="round"/>
<line x1="206.5" y1="379.2" x2="213.5" y2="383.8" stroke="#241d1e" stroke-width="1.2" stroke-linecap="round"/>
<line x1="213.5" y1="383.8" x2="213.5" y2="393" stroke="#241d1e" stroke-width="1.2" stroke-linecap="round"/>
<line x1="213.5" y1="393" x2="205" y2="396.9" stroke="#241d1e" stroke-width="1.2" stroke-linecap="round"/>
<line x1="205" y1="396.9" x2="198.1" y2="392.2" stroke="#241d1e" stroke-width="1.2" stroke-linecap="round"/>
<line x1="198.1" y1="392.2" x2="198.1" y2="383" stroke="#241d1e" stroke-width="1.2" stroke-linecap="round"/>
<line x1="200.73" y1="384.34" x2="205.77" y2="382.06" stroke="#241d1e" stroke-width="1.0"/>
<line x1="213.5" y1="383.8" x2="221.9" y2="379.9" stroke="#241d1e" stroke-width="1.2" stroke-linecap="round"/>
<line x1="221.9" y1="379.9" x2="229.5" y2="384.2" stroke="#241d1e" stroke-width="1.2" stroke-linecap="round"/>
<line x1="229.5" y1="384.2" x2="229.5" y2="393.8" stroke="#241d1e" stroke-width="1.2" stroke-linecap="round"/>
<line x1="229.5" y1="393.8" x2="221" y2="398.1" stroke="#241d1e" stroke-width="1.2" stroke-linecap="round"/>
<line x1="221" y1="398.1" x2="213.5" y2="393" stroke="#241d1e" stroke-width="1.2" stroke-linecap="round"/>
<line x1="216.15" y1="385.11" x2="221.19" y2="382.77" stroke="#241d1e" stroke-width="1.0"/>
<line x1="227.2" y1="386.12" x2="227.2" y2="391.88" stroke="#241d1e" stroke-width="1.0"/>
<line x1="229.5" y1="384.2" x2="237.4" y2="379.3" stroke="#241d1e" stroke-width="1.2" stroke-linecap="round"/>
<line x1="237.4" y1="379.3" x2="245.8" y2="384.2" stroke="#241d1e" stroke-width="1.2" stroke-linecap="round"/>
<line x1="245.8" y1="384.2" x2="246.4" y2="393.2" stroke="#241d1e" stroke-width="1.2" stroke-linecap="round"/>
<line x1="246.4" y1="393.2" x2="238" y2="398.1" stroke="#241d1e" stroke-width="1.2" stroke-linecap="round"/>
<line x1="238" y1="398.1" x2="229.5" y2="393.8" stroke="#241d1e" stroke-width="1.2" stroke-linecap="round"/>
<line x1="237.92" y1="382.27" x2="242.96" y2="385.21" stroke="#241d1e" stroke-width="1.0"/>
<line x1="243.56" y1="392.19" x2="238.52" y2="395.13" stroke="#241d1e" stroke-width="1.0"/>
<line x1="188.8" y1="394.5" x2="198.1" y2="392.2" stroke="#241d1e" stroke-width="1.2" stroke-linecap="round"/>
<line x1="205" y1="396.9" x2="204.2" y2="406.9" stroke="#241d1e" stroke-width="1.2" stroke-linecap="round"/>
<line x1="204.2" y1="406.9" x2="195.8" y2="409.9" stroke="#241d1e" stroke-width="1.2" stroke-linecap="round"/>
<line x1="195.8" y1="409.9" x2="188.8" y2="405.3" stroke="#241d1e" stroke-width="1.2" stroke-linecap="round"/>
<line x1="188.8" y1="405.3" x2="188.8" y2="394.5" stroke="#241d1e" stroke-width="1.2" stroke-linecap="round"/>
<line x1="191.21" y1="396.27" x2="196.79" y2="394.89" stroke="#241d1e" stroke-width="1.0"/>
<line x1="191.1" y1="403.14" x2="191.1" y2="396.66" stroke="#241d1e" stroke-width="1.0"/>
<line x1="221" y1="398.1" x2="219.8" y2="407.7" stroke="#241d1e" stroke-width="1.2" stroke-linecap="round"/>
<line x1="219.8" y1="407.7" x2="211.9" y2="410.7" stroke="#241d1e" stroke-width="1.2" stroke-linecap="round"/>
<line x1="211.9" y1="410.7" x2="204.2" y2="406.9" stroke="#241d1e" stroke-width="1.2" stroke-linecap="round"/>
<line x1="207.66" y1="398.21" x2="212.76" y2="395.87" stroke="#241d1e" stroke-width="1.0"/>
<line x1="206.65" y1="405.08" x2="207.13" y2="399.08" stroke="#241d1e" stroke-width="1.0"/>
<line x1="211.9" y1="410.7" x2="210.4" y2="421.5" stroke="#241d1e" stroke-width="1.2" stroke-linecap="round"/>
<line x1="210.4" y1="421.5" x2="202.7" y2="423.8" stroke="#241d1e" stroke-width="1.2" stroke-linecap="round"/>
<line x1="202.7" y1="423.8" x2="195" y2="418.4" stroke="#241d1e" stroke-width="1.2" stroke-linecap="round"/>
<line x1="195" y1="418.4" x2="195.8" y2="409.9" stroke="#241d1e" stroke-width="1.2" stroke-linecap="round"/>
<line x1="202.48" y1="420.84" x2="197.86" y2="417.6" stroke="#241d1e" stroke-width="1.0"/>
<line x1="219.8" y1="407.7" x2="227.1" y2="414.4" stroke="#241d1e" stroke-width="1.2" stroke-linecap="round"/>
<line x1="227.1" y1="414.4" x2="225.9" y2="423.4" stroke="#241d1e" stroke-width="1.2" stroke-linecap="round"/>
<line x1="225.9" y1="423.4" x2="217.4" y2="426.4" stroke="#241d1e" stroke-width="1.2" stroke-linecap="round"/>
<line x1="217.4" y1="426.4" x2="210.4" y2="421.5" stroke="#241d1e" stroke-width="1.2" stroke-linecap="round"/>
<line x1="214.3" y1="412.25" x2="219.04" y2="410.45" stroke="#241d1e" stroke-width="1.0"/>
<line x1="224.58" y1="415.9" x2="223.86" y2="421.3" stroke="#241d1e" stroke-width="1.0"/>
<line x1="217.32" y1="423.54" x2="213.12" y2="420.6" stroke="#241d1e" stroke-width="1.0"/>
<line x1="246.4" y1="393.2" x2="254.9" y2="396.8" stroke="#241d1e" stroke-width="1.2" stroke-linecap="round"/>
<line x1="254.9" y1="396.8" x2="255.5" y2="405.9" stroke="#241d1e" stroke-width="1.2" stroke-linecap="round"/>
<line x1="255.5" y1="405.9" x2="248.2" y2="410.7" stroke="#241d1e" stroke-width="1.2" stroke-linecap="round"/>
<line x1="248.2" y1="410.7" x2="239.2" y2="407.7" stroke="#241d1e" stroke-width="1.2" stroke-linecap="round"/>
<line x1="239.2" y1="407.7" x2="238" y2="398.1" stroke="#241d1e" stroke-width="1.2" stroke-linecap="round"/>
<line x1="252.72" y1="398.77" x2="253.08" y2="404.23" stroke="#241d1e" stroke-width="1.0"/>
<line x1="247.13" y1="407.92" x2="241.73" y2="406.12" stroke="#241d1e" stroke-width="1.0"/>
<line x1="239.2" y1="407.7" x2="235.6" y2="412.1" stroke="#241d1e" stroke-width="1.2" stroke-linecap="round"/>
<line x1="248.2" y1="410.7" x2="248.4" y2="418.2" stroke="#241d1e" stroke-width="1.2" stroke-linecap="round"/>
<line x1="235.8" y1="420.5" x2="238.6" y2="423" stroke="#241d1e" stroke-width="1.2" stroke-linecap="round"/>
<line x1="238.6" y1="423" x2="244.8" y2="422" stroke="#241d1e" stroke-width="1.2" stroke-linecap="round"/>
<line x1="237.22" y1="419.76" x2="239.18" y2="421.51" stroke="#241d1e" stroke-width="1.0"/>
<text x="233" y="419.49" font-size="9.416000000000002" fill="#d0202e" stroke="#d0202e" stroke-width="0.2" font-weight="bold" text-anchor="middle">N</text>
<text x="248" y="426.19" font-size="9.416000000000002" fill="#d0202e" stroke="#d0202e" stroke-width="0.2" font-weight="bold" text-anchor="middle">S</text>
<line x1="180.8" y1="7" x2="189.2" y2="3.2" stroke="#241d1e" stroke-width="1.2" stroke-linecap="round"/>
<line x1="189.2" y1="3.2" x2="196.2" y2="7.8" stroke="#241d1e" stroke-width="1.2" stroke-linecap="round"/>
<line x1="196.2" y1="7.8" x2="196.2" y2="17" stroke="#241d1e" stroke-width="1.2" stroke-linecap="round"/>
<line x1="196.2" y1="17" x2="187.7" y2="20.9" stroke="#241d1e" stroke-width="1.2" stroke-linecap="round"/>
<line x1="187.7" y1="20.9" x2="180.8" y2="16.2" stroke="#241d1e" stroke-width="1.2" stroke-linecap="round"/>
<line x1="180.8" y1="16.2" x2="180.8" y2="7" stroke="#241d1e" stroke-width="1.2" stroke-linecap="round"/>
<line x1="183.43" y1="8.34" x2="188.47" y2="6.06" stroke="#241d1e" stroke-width="1.0"/>
<line x1="196.2" y1="7.8" x2="204.6" y2="3.9" stroke="#241d1e" stroke-width="1.2" stroke-linecap="round"/>
<line x1="204.6" y1="3.9" x2="212.2" y2="8.2" stroke="#241d1e" stroke-width="1.2" stroke-linecap="round"/>
<line x1="212.2" y1="8.2" x2="212.2" y2="17.8" stroke="#241d1e" stroke-width="1.2" stroke-linecap="round"/>
<line x1="212.2" y1="17.8" x2="203.7" y2="22.1" stroke="#241d1e" stroke-width="1.2" stroke-linecap="round"/>
<line x1="203.7" y1="22.1" x2="196.2" y2="17" stroke="#241d1e" stroke-width="1.2" stroke-linecap="round"/>
<line x1="198.85" y1="9.11" x2="203.89" y2="6.77" stroke="#241d1e" stroke-width="1.0"/>
<line x1="209.9" y1="10.12" x2="209.9" y2="15.88" stroke="#241d1e" stroke-width="1.0"/>
<line x1="212.2" y1="8.2" x2="220.1" y2="3.3" stroke="#241d1e" stroke-width="1.2" stroke-linecap="round"/>
<line x1="220.1" y1="3.3" x2="228.5" y2="8.2" stroke="#241d1e" stroke-width="1.2" stroke-linecap="round"/>
<line x1="228.5" y1="8.2" x2="229.1" y2="17.2" stroke="#241d1e" stroke-width="1.2" stroke-linecap="round"/>
<line x1="229.1" y1="17.2" x2="220.7" y2="22.1" stroke="#241d1e" stroke-width="1.2" stroke-linecap="round"/>
<line x1="220.7" y1="22.1" x2="212.2" y2="17.8" stroke="#241d1e" stroke-width="1.2" stroke-linecap="round"/>
<line x1="220.62" y1="6.27" x2="225.66" y2="9.21" stroke="#241d1e" stroke-width="1.0"/>
<line x1="226.26" y1="16.19" x2="221.22" y2="19.13" stroke="#241d1e" stroke-width="1.0"/>
<line x1="171.5" y1="18.5" x2="180.8" y2="16.2" stroke="#241d1e" stroke-width="1.2" stroke-linecap="round"/>
<line x1="187.7" y1="20.9" x2="186.9" y2="30.9" stroke="#241d1e" stroke-width="1.2" stroke-linecap="round"/>
<line x1="186.9" y1="30.9" x2="178.5" y2="33.9" stroke="#241d1e" stroke-width="1.2" stroke-linecap="round"/>
<line x1="178.5" y1="33.9" x2="171.5" y2="29.3" stroke="#241d1e" stroke-width="1.2" stroke-linecap="round"/>
<line x1="171.5" y1="29.3" x2="171.5" y2="18.5" stroke="#241d1e" stroke-width="1.2" stroke-linecap="round"/>
<line x1="173.91" y1="20.27" x2="179.49" y2="18.89" stroke="#241d1e" stroke-width="1.0"/>
<line x1="173.8" y1="27.14" x2="173.8" y2="20.66" stroke="#241d1e" stroke-width="1.0"/>
<line x1="203.7" y1="22.1" x2="202.5" y2="31.7" stroke="#241d1e" stroke-width="1.2" stroke-linecap="round"/>
<line x1="202.5" y1="31.7" x2="194.6" y2="34.7" stroke="#241d1e" stroke-width="1.2" stroke-linecap="round"/>
<line x1="194.6" y1="34.7" x2="186.9" y2="30.9" stroke="#241d1e" stroke-width="1.2" stroke-linecap="round"/>
<line x1="190.36" y1="22.21" x2="195.46" y2="19.87" stroke="#241d1e" stroke-width="1.0"/>
<line x1="189.35" y1="29.08" x2="189.83" y2="23.08" stroke="#241d1e" stroke-width="1.0"/>
<line x1="194.6" y1="34.7" x2="193.1" y2="45.5" stroke="#241d1e" stroke-width="1.2" stroke-linecap="round"/>
<line x1="193.1" y1="45.5" x2="185.4" y2="47.8" stroke="#241d1e" stroke-width="1.2" stroke-linecap="round"/>
<line x1="185.4" y1="47.8" x2="177.7" y2="42.4" stroke="#241d1e" stroke-width="1.2" stroke-linecap="round"/>
<line x1="177.7" y1="42.4" x2="178.5" y2="33.9" stroke="#241d1e" stroke-width="1.2" stroke-linecap="round"/>
<line x1="185.18" y1="44.84" x2="180.56" y2="41.6" stroke="#241d1e" stroke-width="1.0"/>
<line x1="202.5" y1="31.7" x2="209.8" y2="38.4" stroke="#241d1e" stroke-width="1.2" stroke-linecap="round"/>
<line x1="209.8" y1="38.4" x2="208.6" y2="47.4" stroke="#241d1e" stroke-width="1.2" stroke-linecap="round"/>
<line x1="208.6" y1="47.4" x2="200.1" y2="50.4" stroke="#241d1e" stroke-width="1.2" stroke-linecap="round"/>
<line x1="200.1" y1="50.4" x2="193.1" y2="45.5" stroke="#241d1e" stroke-width="1.2" stroke-linecap="round"/>
<line x1="197" y1="36.25" x2="201.74" y2="34.45" stroke="#241d1e" stroke-width="1.0"/>
<line x1="207.28" y1="39.9" x2="206.56" y2="45.3" stroke="#241d1e" stroke-width="1.0"/>
<line x1="200.02" y1="47.54" x2="195.82" y2="44.6" stroke="#241d1e" stroke-width="1.0"/>
<line x1="229.1" y1="17.2" x2="237.6" y2="20.8" stroke="#241d1e" stroke-width="1.2" stroke-linecap="round"/>
<line x1="237.6" y1="20.8" x2="238.2" y2="29.9" stroke="#241d1e" stroke-width="1.2" stroke-linecap="round"/>
<line x1="238.2" y1="29.9" x2="230.9" y2="34.7" stroke="#241d1e" stroke-width="1.2" stroke-linecap="round"/>
<line x1="230.9" y1="34.7" x2="221.9" y2="31.7" stroke="#241d1e" stroke-width="1.2" stroke-linecap="round"/>
<line x1="221.9" y1="31.7" x2="220.7" y2="22.1" stroke="#241d1e" stroke-width="1.2" stroke-linecap="round"/>
<line x1="235.42" y1="22.77" x2="235.78" y2="28.23" stroke="#241d1e" stroke-width="1.0"/>
<line x1="229.83" y1="31.92" x2="224.43" y2="30.12" stroke="#241d1e" stroke-width="1.0"/>
<line x1="221.1" y1="32.3" x2="215.8" y2="38.9" stroke="#241d1e" stroke-width="1.2" stroke-linecap="round"/>
<line x1="215.8" y1="38.9" x2="221.1" y2="46.9" stroke="#241d1e" stroke-width="1.2" stroke-linecap="round"/>
<line x1="217.93" y1="39.22" x2="221.64" y2="44.82" stroke="#241d1e" stroke-width="1.0"/>
<line x1="221.1" y1="46.9" x2="227" y2="46.3" stroke="#241d1e" stroke-width="1.2" stroke-linecap="round"/>
<line x1="230.3" y1="35" x2="230.3" y2="42.5" stroke="#241d1e" stroke-width="1.2" stroke-linecap="round"/>
<line x1="221.1" y1="46.9" x2="217.8" y2="52.8" stroke="#241d1e" stroke-width="1.2" stroke-linecap="round"/>
<text x="230.6" y="49.49" font-size="9.416000000000002" fill="#d0202e" stroke="#d0202e" stroke-width="0.2" font-weight="bold" text-anchor="middle">S</text>
<text x="206.4" y="59" font-size="8.4" fill="#231f20" stroke="#231f20" stroke-width="0.26" textLength="13.4" lengthAdjust="spacingAndGlyphs"><tspan>H</tspan><tspan dy="1.09" font-size="5.21">3</tspan><tspan dy="-1.09">C</tspan></text>
<line x1="177.1" y1="87.1" x2="185" y2="82.6" stroke="#241d1e" stroke-width="1.2" stroke-linecap="round"/>
<line x1="185" y1="82.6" x2="192.9" y2="86.4" stroke="#241d1e" stroke-width="1.2" stroke-linecap="round"/>
<line x1="192.9" y1="86.4" x2="192.9" y2="95.7" stroke="#241d1e" stroke-width="1.2" stroke-linecap="round"/>
<line x1="192.9" y1="95.7" x2="185" y2="99.3" stroke="#241d1e" stroke-width="1.2" stroke-linecap="round"/>
<line x1="185" y1="99.3" x2="177.9" y2="95.7" stroke="#241d1e" stroke-width="1.2" stroke-linecap="round"/>
<line x1="177.9" y1="95.7" x2="177.1" y2="87.1" stroke="#241d1e" stroke-width="1.2" stroke-linecap="round"/>
<line x1="179.82" y1="88.2" x2="184.56" y2="85.5" stroke="#241d1e" stroke-width="1.0"/>
<line x1="190.6" y1="88.26" x2="190.6" y2="93.84" stroke="#241d1e" stroke-width="1.0"/>
<line x1="192.9" y1="86.4" x2="200" y2="80.7" stroke="#241d1e" stroke-width="1.2" stroke-linecap="round"/>
<line x1="200" y1="80.7" x2="207.9" y2="84.3" stroke="#241d1e" stroke-width="1.2" stroke-linecap="round"/>
<line x1="207.9" y1="84.3" x2="209.3" y2="92.9" stroke="#241d1e" stroke-width="1.2" stroke-linecap="round"/>
<line x1="209.3" y1="92.9" x2="201.4" y2="97.9" stroke="#241d1e" stroke-width="1.2" stroke-linecap="round"/>
<line x1="201.4" y1="97.9" x2="192.9" y2="95.7" stroke="#241d1e" stroke-width="1.2" stroke-linecap="round"/>
<line x1="195.76" y1="87.05" x2="200.02" y2="83.63" stroke="#241d1e" stroke-width="1.0"/>
<line x1="206.49" y1="91.96" x2="201.75" y2="94.96" stroke="#241d1e" stroke-width="1.0"/>
<line x1="207.9" y1="84.3" x2="214.3" y2="77.1" stroke="#241d1e" stroke-width="1.2" stroke-linecap="round"/>
<line x1="214.3" y1="77.1" x2="223.6" y2="80" stroke="#241d1e" stroke-width="1.2" stroke-linecap="round"/>
<line x1="223.6" y1="80" x2="225.7" y2="88.6" stroke="#241d1e" stroke-width="1.2" stroke-linecap="round"/>
<line x1="225.7" y1="88.6" x2="220" y2="94.3" stroke="#241d1e" stroke-width="1.2" stroke-linecap="round"/>
<line x1="220" y1="94.3" x2="209.3" y2="92.9" stroke="#241d1e" stroke-width="1.2" stroke-linecap="round"/>
<line x1="215.48" y1="79.88" x2="221.06" y2="81.62" stroke="#241d1e" stroke-width="1.0"/>
<line x1="222.93" y1="88.11" x2="219.51" y2="91.53" stroke="#241d1e" stroke-width="1.0"/>
<line x1="225.7" y1="88.6" x2="235" y2="91.4" stroke="#241d1e" stroke-width="1.2" stroke-linecap="round"/>
<line x1="235" y1="91.4" x2="237.9" y2="97.9" stroke="#241d1e" stroke-width="1.2" stroke-linecap="round"/>
<line x1="237.9" y1="97.9" x2="233.6" y2="104.3" stroke="#241d1e" stroke-width="1.2" stroke-linecap="round"/>
<line x1="233.6" y1="104.3" x2="224.3" y2="103.6" stroke="#241d1e" stroke-width="1.2" stroke-linecap="round"/>
<line x1="224.3" y1="103.6" x2="220" y2="94.3" stroke="#241d1e" stroke-width="1.2" stroke-linecap="round"/>
<line x1="233.48" y1="93.64" x2="235.22" y2="97.54" stroke="#241d1e" stroke-width="1.0"/>
<line x1="231.91" y1="101.87" x2="226.33" y2="101.45" stroke="#241d1e" stroke-width="1.0"/>
<line x1="170.7" y1="100" x2="177.9" y2="95.7" stroke="#241d1e" stroke-width="1.2" stroke-linecap="round"/>
<line x1="185" y1="99.3" x2="185.7" y2="108.6" stroke="#241d1e" stroke-width="1.2" stroke-linecap="round"/>
<line x1="185.7" y1="108.6" x2="178.6" y2="112.9" stroke="#241d1e" stroke-width="1.2" stroke-linecap="round"/>
<line x1="178.6" y1="112.9" x2="171.4" y2="108.6" stroke="#241d1e" stroke-width="1.2" stroke-linecap="round"/>
<line x1="171.4" y1="108.6" x2="170.7" y2="100" stroke="#241d1e" stroke-width="1.2" stroke-linecap="round"/>
<line x1="173.32" y1="101.11" x2="177.64" y2="98.53" stroke="#241d1e" stroke-width="1.0"/>
<line x1="173.55" y1="106.69" x2="173.13" y2="101.53" stroke="#241d1e" stroke-width="1.0"/>
<line x1="201.4" y1="97.9" x2="201.4" y2="107.9" stroke="#241d1e" stroke-width="1.2" stroke-linecap="round"/>
<line x1="201.4" y1="107.9" x2="193.6" y2="112.1" stroke="#241d1e" stroke-width="1.2" stroke-linecap="round"/>
<line x1="193.6" y1="112.1" x2="185.7" y2="108.6" stroke="#241d1e" stroke-width="1.2" stroke-linecap="round"/>
<line x1="187.85" y1="106.57" x2="187.43" y2="100.99" stroke="#241d1e" stroke-width="1.0"/>
<line x1="193.6" y1="112.1" x2="192.9" y2="121.4" stroke="#241d1e" stroke-width="1.2" stroke-linecap="round"/>
<line x1="192.9" y1="121.4" x2="185" y2="125" stroke="#241d1e" stroke-width="1.2" stroke-linecap="round"/>
<line x1="185" y1="125" x2="177.9" y2="120.7" stroke="#241d1e" stroke-width="1.2" stroke-linecap="round"/>
<line x1="177.9" y1="120.7" x2="178.6" y2="112.9" stroke="#241d1e" stroke-width="1.2" stroke-linecap="round"/>
<line x1="184.77" y1="122.17" x2="180.51" y2="119.59" stroke="#241d1e" stroke-width="1.0"/>
<line x1="201.4" y1="107.9" x2="208.6" y2="112.9" stroke="#241d1e" stroke-width="1.2" stroke-linecap="round"/>
<line x1="208.6" y1="112.9" x2="207.9" y2="122.9" stroke="#241d1e" stroke-width="1.2" stroke-linecap="round"/>
<line x1="207.9" y1="122.9" x2="200" y2="127.1" stroke="#241d1e" stroke-width="1.2" stroke-linecap="round"/>
<line x1="200" y1="127.1" x2="192.9" y2="121.4" stroke="#241d1e" stroke-width="1.2" stroke-linecap="round"/>
<line x1="196.25" y1="113.29" x2="200.93" y2="110.77" stroke="#241d1e" stroke-width="1.0"/>
<line x1="206.17" y1="114.74" x2="205.75" y2="120.74" stroke="#241d1e" stroke-width="1.0"/>
<line x1="200.02" y1="124.17" x2="195.76" y2="120.75" stroke="#241d1e" stroke-width="1.0"/>
<line x1="201.4" y1="97.9" x2="209.3" y2="92.9" stroke="#241d1e" stroke-width="1.2" stroke-linecap="round"/>
<line x1="224.3" y1="103.6" x2="220" y2="113.6" stroke="#241d1e" stroke-width="1.2" stroke-linecap="round"/>
<line x1="220" y1="113.6" x2="208.6" y2="112.9" stroke="#241d1e" stroke-width="1.2" stroke-linecap="round"/>
<line x1="233.6" y1="104.3" x2="235" y2="112.5" stroke="#241d1e" stroke-width="1.2" stroke-linecap="round"/>
<line x1="220" y1="113.6" x2="224.5" y2="119" stroke="#241d1e" stroke-width="1.2" stroke-linecap="round"/>
<line x1="225.12" y1="105.73" x2="222.11" y2="112.73" stroke="#241d1e" stroke-width="1.0"/>
<line x1="224.5" y1="119" x2="231.5" y2="117.5" stroke="#241d1e" stroke-width="1.2" stroke-linecap="round"/>
<line x1="224.5" y1="119" x2="222.9" y2="127.1" stroke="#241d1e" stroke-width="1.2" stroke-linecap="round"/>
<text x="235.4" y="120.49" font-size="9.416000000000002" fill="#d0202e" stroke="#d0202e" stroke-width="0.2" font-weight="bold" text-anchor="middle">S</text>
<text x="211.8" y="133.1" font-size="8.4" fill="#231f20" stroke="#231f20" stroke-width="0.26" textLength="12.6" lengthAdjust="spacingAndGlyphs"><tspan>H</tspan><tspan dy="1.09" font-size="5.21">3</tspan><tspan dy="-1.09">C</tspan></text>
<line x1="40.4" y1="178.5" x2="48.9" y2="174.2" stroke="#241d1e" stroke-width="1.2" stroke-linecap="round"/>
<line x1="48.9" y1="174.2" x2="56.6" y2="178.5" stroke="#241d1e" stroke-width="1.2" stroke-linecap="round"/>
<line x1="56.6" y1="178.5" x2="56.6" y2="188.5" stroke="#241d1e" stroke-width="1.2" stroke-linecap="round"/>
<line x1="56.6" y1="188.5" x2="48.1" y2="192.3" stroke="#241d1e" stroke-width="1.2" stroke-linecap="round"/>
<line x1="48.1" y1="192.3" x2="39.6" y2="187.7" stroke="#241d1e" stroke-width="1.2" stroke-linecap="round"/>
<line x1="39.6" y1="187.7" x2="40.4" y2="178.5" stroke="#241d1e" stroke-width="1.2" stroke-linecap="round"/>
<line x1="43.14" y1="179.69" x2="48.24" y2="177.11" stroke="#241d1e" stroke-width="1.0"/>
<line x1="54.3" y1="180.5" x2="54.3" y2="186.5" stroke="#241d1e" stroke-width="1.0"/>
<line x1="56.6" y1="178.5" x2="64.3" y2="174.2" stroke="#241d1e" stroke-width="1.2" stroke-linecap="round"/>
<line x1="64.3" y1="174.2" x2="72.8" y2="178.5" stroke="#241d1e" stroke-width="1.2" stroke-linecap="round"/>
<line x1="72.8" y1="178.5" x2="72.8" y2="187.7" stroke="#241d1e" stroke-width="1.2" stroke-linecap="round"/>
<line x1="72.8" y1="187.7" x2="65.8" y2="192.3" stroke="#241d1e" stroke-width="1.2" stroke-linecap="round"/>
<line x1="65.8" y1="192.3" x2="56.6" y2="188.5" stroke="#241d1e" stroke-width="1.2" stroke-linecap="round"/>
<line x1="64.96" y1="177.11" x2="70.06" y2="179.69" stroke="#241d1e" stroke-width="1.0"/>
<line x1="70.14" y1="186.7" x2="65.94" y2="189.46" stroke="#241d1e" stroke-width="1.0"/>
<line x1="31.2" y1="191.6" x2="39.6" y2="187.7" stroke="#241d1e" stroke-width="1.2" stroke-linecap="round"/>
<line x1="48.1" y1="192.3" x2="46.6" y2="203.1" stroke="#241d1e" stroke-width="1.2" stroke-linecap="round"/>
<line x1="46.6" y1="203.1" x2="38.1" y2="205.4" stroke="#241d1e" stroke-width="1.2" stroke-linecap="round"/>
<line x1="38.1" y1="205.4" x2="30.4" y2="200.8" stroke="#241d1e" stroke-width="1.2" stroke-linecap="round"/>
<line x1="30.4" y1="200.8" x2="31.2" y2="191.6" stroke="#241d1e" stroke-width="1.2" stroke-linecap="round"/>
<line x1="33.85" y1="192.91" x2="38.89" y2="190.57" stroke="#241d1e" stroke-width="1.0"/>
<line x1="32.85" y1="199.16" x2="33.33" y2="193.64" stroke="#241d1e" stroke-width="1.0"/>
<line x1="72.8" y1="187.7" x2="80.5" y2="191.6" stroke="#241d1e" stroke-width="1.2" stroke-linecap="round"/>
<line x1="80.5" y1="191.6" x2="82" y2="200.8" stroke="#241d1e" stroke-width="1.2" stroke-linecap="round"/>
<line x1="82" y1="200.8" x2="75.1" y2="204.7" stroke="#241d1e" stroke-width="1.2" stroke-linecap="round"/>
<line x1="75.1" y1="204.7" x2="66.6" y2="203.1" stroke="#241d1e" stroke-width="1.2" stroke-linecap="round"/>
<line x1="66.6" y1="203.1" x2="65.8" y2="192.3" stroke="#241d1e" stroke-width="1.2" stroke-linecap="round"/>
<line x1="73.3" y1="190.53" x2="77.92" y2="192.87" stroke="#241d1e" stroke-width="1.0"/>
<line x1="78.53" y1="193.81" x2="79.43" y2="199.33" stroke="#241d1e" stroke-width="1.0"/>
<line x1="46.6" y1="203.1" x2="54.5" y2="208.7" stroke="#241d1e" stroke-width="1.2" stroke-linecap="round"/>
<line x1="54.5" y1="208.7" x2="63.7" y2="206.2" stroke="#241d1e" stroke-width="1.2" stroke-linecap="round"/>
<line x1="63.7" y1="206.2" x2="66.6" y2="203.1" stroke="#241d1e" stroke-width="1.2" stroke-linecap="round"/>
<line x1="46.6" y1="203.1" x2="54.3" y2="209" stroke="#241d1e" stroke-width="1.2" stroke-linecap="round"/>
<line x1="54.3" y1="209" x2="53" y2="218.6" stroke="#241d1e" stroke-width="1.2" stroke-linecap="round"/>
<line x1="53" y1="218.6" x2="45" y2="221.3" stroke="#241d1e" stroke-width="1.2" stroke-linecap="round"/>
<line x1="45" y1="221.3" x2="36.5" y2="215.2" stroke="#241d1e" stroke-width="1.2" stroke-linecap="round"/>
<line x1="36.5" y1="215.2" x2="38.1" y2="205.4" stroke="#241d1e" stroke-width="1.2" stroke-linecap="round"/>
<line x1="46.74" y1="206.11" x2="51.36" y2="209.65" stroke="#241d1e" stroke-width="1.0"/>
<line x1="39.09" y1="213.61" x2="40.05" y2="207.73" stroke="#241d1e" stroke-width="1.0"/>
<line x1="45" y1="221.3" x2="55.4" y2="224.2" stroke="#241d1e" stroke-width="1.2" stroke-linecap="round"/>
<line x1="43" y1="219.3" x2="53" y2="221.6" stroke="#241d1e" stroke-width="1.0"/>
<line x1="41.6" y1="214.2" x2="48.4" y2="208.4" stroke="#241d1e" stroke-width="1.0"/>
<line x1="43.6" y1="216.4" x2="50.4" y2="210.6" stroke="#241d1e" stroke-width="1.0"/>
<line x1="63.7" y1="206.4" x2="66.6" y2="203.1" stroke="#241d1e" stroke-width="1.2" stroke-linecap="round"/>
<line x1="66.6" y1="203.1" x2="75.1" y2="204.7" stroke="#241d1e" stroke-width="1.2" stroke-linecap="round"/>
<line x1="75.1" y1="204.7" x2="76.6" y2="214.5" stroke="#241d1e" stroke-width="1.2" stroke-linecap="round"/>
<line x1="76.6" y1="214.5" x2="69.6" y2="220.2" stroke="#241d1e" stroke-width="1.2" stroke-linecap="round"/>
<line x1="69.6" y1="220.2" x2="69.8" y2="213.1" stroke="#241d1e" stroke-width="1.2" stroke-linecap="round"/>
<line x1="69.8" y1="213.1" x2="63.7" y2="206.4" stroke="#241d1e" stroke-width="1.2" stroke-linecap="round"/>
<line x1="69.6" y1="220.2" x2="62.2" y2="222.9" stroke="#241d1e" stroke-width="1.2" stroke-linecap="round"/>
<line x1="65.2" y1="208.6" x2="68.8" y2="212.6" stroke="#241d1e" stroke-width="1.0"/>
<line x1="73.6" y1="207.6" x2="74.9" y2="213.6" stroke="#241d1e" stroke-width="1.0"/>
<line x1="68" y1="217.9" x2="73.6" y2="214.4" stroke="#241d1e" stroke-width="1.0"/>
<line x1="66.8" y1="205.1" x2="73.2" y2="206.4" stroke="#241d1e" stroke-width="1.0"/>
<line x1="53" y1="218.6" x2="56.6" y2="222.2" stroke="#241d1e" stroke-width="1.2" stroke-linecap="round"/>
<line x1="60.4" y1="208.4" x2="61.7" y2="217.9" stroke="#241d1e" stroke-width="1.2" stroke-linecap="round"/>
<line x1="61.7" y1="217.9" x2="60.3" y2="221.9" stroke="#241d1e" stroke-width="1.2" stroke-linecap="round"/>
<line x1="55.6" y1="210.6" x2="54.8" y2="217.4" stroke="#241d1e" stroke-width="1.0"/>
<line x1="58.6" y1="210.6" x2="59.9" y2="216.9" stroke="#241d1e" stroke-width="1.0"/>
<text x="58.9" y="229.09" font-size="9.416000000000002" fill="#d0202e" stroke="#d0202e" stroke-width="0.2" font-weight="bold" text-anchor="middle">N</text>
<line x1="40.4" y1="278.9" x2="48.9" y2="274.6" stroke="#241d1e" stroke-width="1.2" stroke-linecap="round"/>
<line x1="48.9" y1="274.6" x2="56.6" y2="278.9" stroke="#241d1e" stroke-width="1.2" stroke-linecap="round"/>
<line x1="56.6" y1="278.9" x2="56.6" y2="288.9" stroke="#241d1e" stroke-width="1.2" stroke-linecap="round"/>
<line x1="56.6" y1="288.9" x2="48.1" y2="292.7" stroke="#241d1e" stroke-width="1.2" stroke-linecap="round"/>
<line x1="48.1" y1="292.7" x2="39.6" y2="288.1" stroke="#241d1e" stroke-width="1.2" stroke-linecap="round"/>
<line x1="39.6" y1="288.1" x2="40.4" y2="278.9" stroke="#241d1e" stroke-width="1.2" stroke-linecap="round"/>
<line x1="43.14" y1="280.09" x2="48.24" y2="277.51" stroke="#241d1e" stroke-width="1.0"/>
<line x1="54.3" y1="280.9" x2="54.3" y2="286.9" stroke="#241d1e" stroke-width="1.0"/>
<line x1="56.6" y1="278.9" x2="64.3" y2="274.6" stroke="#241d1e" stroke-width="1.2" stroke-linecap="round"/>
<line x1="64.3" y1="274.6" x2="72.8" y2="278.9" stroke="#241d1e" stroke-width="1.2" stroke-linecap="round"/>
<line x1="72.8" y1="278.9" x2="72.8" y2="288.1" stroke="#241d1e" stroke-width="1.2" stroke-linecap="round"/>
<line x1="72.8" y1="288.1" x2="65.8" y2="292.7" stroke="#241d1e" stroke-width="1.2" stroke-linecap="round"/>
<line x1="65.8" y1="292.7" x2="56.6" y2="288.9" stroke="#241d1e" stroke-width="1.2" stroke-linecap="round"/>
<line x1="64.96" y1="277.51" x2="70.06" y2="280.09" stroke="#241d1e" stroke-width="1.0"/>
<line x1="70.14" y1="287.1" x2="65.94" y2="289.86" stroke="#241d1e" stroke-width="1.0"/>
<line x1="31.2" y1="292" x2="39.6" y2="288.1" stroke="#241d1e" stroke-width="1.2" stroke-linecap="round"/>
<line x1="48.1" y1="292.7" x2="46.6" y2="303.5" stroke="#241d1e" stroke-width="1.2" stroke-linecap="round"/>
<line x1="46.6" y1="303.5" x2="38.1" y2="305.8" stroke="#241d1e" stroke-width="1.2" stroke-linecap="round"/>
<line x1="38.1" y1="305.8" x2="30.4" y2="301.2" stroke="#241d1e" stroke-width="1.2" stroke-linecap="round"/>
<line x1="30.4" y1="301.2" x2="31.2" y2="292" stroke="#241d1e" stroke-width="1.2" stroke-linecap="round"/>
<line x1="33.85" y1="293.31" x2="38.89" y2="290.97" stroke="#241d1e" stroke-width="1.0"/>
<line x1="32.85" y1="299.56" x2="33.33" y2="294.04" stroke="#241d1e" stroke-width="1.0"/>
<line x1="72.8" y1="288.1" x2="80.5" y2="292" stroke="#241d1e" stroke-width="1.2" stroke-linecap="round"/>
<line x1="80.5" y1="292" x2="82" y2="301.2" stroke="#241d1e" stroke-width="1.2" stroke-linecap="round"/>
<line x1="82" y1="301.2" x2="75.1" y2="305.1" stroke="#241d1e" stroke-width="1.2" stroke-linecap="round"/>
<line x1="75.1" y1="305.1" x2="66.6" y2="303.5" stroke="#241d1e" stroke-width="1.2" stroke-linecap="round"/>
<line x1="66.6" y1="303.5" x2="65.8" y2="292.7" stroke="#241d1e" stroke-width="1.2" stroke-linecap="round"/>
<line x1="73.3" y1="290.93" x2="77.92" y2="293.27" stroke="#241d1e" stroke-width="1.0"/>
<line x1="78.53" y1="294.21" x2="79.43" y2="299.73" stroke="#241d1e" stroke-width="1.0"/>
<line x1="46.6" y1="303.5" x2="54.5" y2="309.1" stroke="#241d1e" stroke-width="1.2" stroke-linecap="round"/>
<line x1="54.5" y1="309.1" x2="63.7" y2="306.6" stroke="#241d1e" stroke-width="1.2" stroke-linecap="round"/>
<line x1="63.7" y1="306.6" x2="66.6" y2="303.5" stroke="#241d1e" stroke-width="1.2" stroke-linecap="round"/>
<line x1="46.6" y1="303.5" x2="54.3" y2="309.4" stroke="#241d1e" stroke-width="1.2" stroke-linecap="round"/>
<line x1="54.3" y1="309.4" x2="53" y2="319" stroke="#241d1e" stroke-width="1.2" stroke-linecap="round"/>
<line x1="53" y1="319" x2="45" y2="321.7" stroke="#241d1e" stroke-width="1.2" stroke-linecap="round"/>
<line x1="45" y1="321.7" x2="36.5" y2="315.6" stroke="#241d1e" stroke-width="1.2" stroke-linecap="round"/>
<line x1="36.5" y1="315.6" x2="38.1" y2="305.8" stroke="#241d1e" stroke-width="1.2" stroke-linecap="round"/>
<line x1="46.74" y1="306.51" x2="51.36" y2="310.05" stroke="#241d1e" stroke-width="1.0"/>
<line x1="39.09" y1="314.01" x2="40.05" y2="308.13" stroke="#241d1e" stroke-width="1.0"/>
<line x1="45" y1="321.7" x2="55.4" y2="324.6" stroke="#241d1e" stroke-width="1.2" stroke-linecap="round"/>
<line x1="43" y1="319.7" x2="53" y2="322" stroke="#241d1e" stroke-width="1.0"/>
<line x1="41.6" y1="314.6" x2="48.4" y2="308.8" stroke="#241d1e" stroke-width="1.0"/>
<line x1="43.6" y1="316.8" x2="50.4" y2="311" stroke="#241d1e" stroke-width="1.0"/>
<line x1="63.7" y1="306.8" x2="66.6" y2="303.5" stroke="#241d1e" stroke-width="1.2" stroke-linecap="round"/>
<line x1="66.6" y1="303.5" x2="75.1" y2="305.1" stroke="#241d1e" stroke-width="1.2" stroke-linecap="round"/>
<line x1="75.1" y1="305.1" x2="76.6" y2="314.9" stroke="#241d1e" stroke-width="1.2" stroke-linecap="round"/>
<line x1="76.6" y1="314.9" x2="69.6" y2="320.6" stroke="#241d1e" stroke-width="1.2" stroke-linecap="round"/>
<line x1="69.6" y1="320.6" x2="69.8" y2="313.5" stroke="#241d1e" stroke-width="1.2" stroke-linecap="round"/>
<line x1="69.8" y1="313.5" x2="63.7" y2="306.8" stroke="#241d1e" stroke-width="1.2" stroke-linecap="round"/>
<line x1="69.6" y1="320.6" x2="62.2" y2="323.3" stroke="#241d1e" stroke-width="1.2" stroke-linecap="round"/>
<line x1="65.2" y1="309" x2="68.8" y2="313" stroke="#241d1e" stroke-width="1.0"/>
<line x1="73.6" y1="308" x2="74.9" y2="314" stroke="#241d1e" stroke-width="1.0"/>
<line x1="68" y1="318.3" x2="73.6" y2="314.8" stroke="#241d1e" stroke-width="1.0"/>
<line x1="66.8" y1="305.5" x2="73.2" y2="306.8" stroke="#241d1e" stroke-width="1.0"/>
<line x1="53" y1="319" x2="56.6" y2="322.6" stroke="#241d1e" stroke-width="1.2" stroke-linecap="round"/>
<line x1="60.4" y1="308.8" x2="61.7" y2="318.3" stroke="#241d1e" stroke-width="1.2" stroke-linecap="round"/>
<line x1="61.7" y1="318.3" x2="60.3" y2="322.3" stroke="#241d1e" stroke-width="1.2" stroke-linecap="round"/>
<line x1="55.6" y1="311" x2="54.8" y2="317.8" stroke="#241d1e" stroke-width="1.0"/>
<line x1="58.6" y1="311" x2="59.9" y2="317.3" stroke="#241d1e" stroke-width="1.0"/>
<text x="59.3" y="329.59" font-size="9.416000000000002" fill="#d0202e" stroke="#d0202e" stroke-width="0.2" font-weight="bold" text-anchor="middle">N</text>
<text x="66.3" y="329.2" font-size="8.4" fill="#d0202e" stroke="#d0202e" stroke-width="0.2" font-weight="bold" text-anchor="middle">+</text>
<text x="59.1" y="338.29" font-size="9.416000000000002" fill="#d0202e" stroke="#d0202e" stroke-width="0.2" font-weight="bold" text-anchor="middle">H</text>
<line x1="40.4" y1="379.8" x2="48.9" y2="375.5" stroke="#241d1e" stroke-width="1.2" stroke-linecap="round"/>
<line x1="48.9" y1="375.5" x2="56.6" y2="379.8" stroke="#241d1e" stroke-width="1.2" stroke-linecap="round"/>
<line x1="56.6" y1="379.8" x2="56.6" y2="389.8" stroke="#241d1e" stroke-width="1.2" stroke-linecap="round"/>
<line x1="56.6" y1="389.8" x2="48.1" y2="393.6" stroke="#241d1e" stroke-width="1.2" stroke-linecap="round"/>
<line x1="48.1" y1="393.6" x2="39.6" y2="389" stroke="#241d1e" stroke-width="1.2" stroke-linecap="round"/>
<line x1="39.6" y1="389" x2="40.4" y2="379.8" stroke="#241d1e" stroke-width="1.2" stroke-linecap="round"/>
<line x1="43.14" y1="380.99" x2="48.24" y2="378.41" stroke="#241d1e" stroke-width="1.0"/>
<line x1="54.3" y1="381.8" x2="54.3" y2="387.8" stroke="#241d1e" stroke-width="1.0"/>
<line x1="56.6" y1="379.8" x2="64.3" y2="375.5" stroke="#241d1e" stroke-width="1.2" stroke-linecap="round"/>
<line x1="64.3" y1="375.5" x2="72.8" y2="379.8" stroke="#241d1e" stroke-width="1.2" stroke-linecap="round"/>
<line x1="72.8" y1="379.8" x2="72.8" y2="389" stroke="#241d1e" stroke-width="1.2" stroke-linecap="round"/>
<line x1="72.8" y1="389" x2="65.8" y2="393.6" stroke="#241d1e" stroke-width="1.2" stroke-linecap="round"/>
<line x1="65.8" y1="393.6" x2="56.6" y2="389.8" stroke="#241d1e" stroke-width="1.2" stroke-linecap="round"/>
<line x1="64.96" y1="378.41" x2="70.06" y2="380.99" stroke="#241d1e" stroke-width="1.0"/>
<line x1="70.14" y1="388" x2="65.94" y2="390.76" stroke="#241d1e" stroke-width="1.0"/>
<line x1="31.2" y1="392.9" x2="39.6" y2="389" stroke="#241d1e" stroke-width="1.2" stroke-linecap="round"/>
<line x1="48.1" y1="393.6" x2="46.6" y2="404.4" stroke="#241d1e" stroke-width="1.2" stroke-linecap="round"/>
<line x1="46.6" y1="404.4" x2="38.1" y2="406.7" stroke="#241d1e" stroke-width="1.2" stroke-linecap="round"/>
<line x1="38.1" y1="406.7" x2="30.4" y2="402.1" stroke="#241d1e" stroke-width="1.2" stroke-linecap="round"/>
<line x1="30.4" y1="402.1" x2="31.2" y2="392.9" stroke="#241d1e" stroke-width="1.2" stroke-linecap="round"/>
<line x1="33.85" y1="394.21" x2="38.89" y2="391.87" stroke="#241d1e" stroke-width="1.0"/>
<line x1="32.85" y1="400.46" x2="33.33" y2="394.94" stroke="#241d1e" stroke-width="1.0"/>
<line x1="72.8" y1="389" x2="80.5" y2="392.9" stroke="#241d1e" stroke-width="1.2" stroke-linecap="round"/>
<line x1="80.5" y1="392.9" x2="82" y2="402.1" stroke="#241d1e" stroke-width="1.2" stroke-linecap="round"/>
<line x1="82" y1="402.1" x2="75.1" y2="406" stroke="#241d1e" stroke-width="1.2" stroke-linecap="round"/>
<line x1="75.1" y1="406" x2="66.6" y2="404.4" stroke="#241d1e" stroke-width="1.2" stroke-linecap="round"/>
<line x1="66.6" y1="404.4" x2="65.8" y2="393.6" stroke="#241d1e" stroke-width="1.2" stroke-linecap="round"/>
<line x1="73.3" y1="391.83" x2="77.92" y2="394.17" stroke="#241d1e" stroke-width="1.0"/>
<line x1="78.53" y1="395.11" x2="79.43" y2="400.63" stroke="#241d1e" stroke-width="1.0"/>
<line x1="46.6" y1="404.4" x2="54.5" y2="410" stroke="#241d1e" stroke-width="1.2" stroke-linecap="round"/>
<line x1="54.5" y1="410" x2="63.7" y2="407.5" stroke="#241d1e" stroke-width="1.2" stroke-linecap="round"/>
<line x1="63.7" y1="407.5" x2="66.6" y2="404.4" stroke="#241d1e" stroke-width="1.2" stroke-linecap="round"/>
<line x1="46.6" y1="404.4" x2="54.3" y2="410.3" stroke="#241d1e" stroke-width="1.2" stroke-linecap="round"/>
<line x1="54.3" y1="410.3" x2="53" y2="419.9" stroke="#241d1e" stroke-width="1.2" stroke-linecap="round"/>
<line x1="53" y1="419.9" x2="45" y2="422.6" stroke="#241d1e" stroke-width="1.2" stroke-linecap="round"/>
<line x1="45" y1="422.6" x2="36.5" y2="416.5" stroke="#241d1e" stroke-width="1.2" stroke-linecap="round"/>
<line x1="36.5" y1="416.5" x2="38.1" y2="406.7" stroke="#241d1e" stroke-width="1.2" stroke-linecap="round"/>
<line x1="46.74" y1="407.41" x2="51.36" y2="410.95" stroke="#241d1e" stroke-width="1.0"/>
<line x1="39.09" y1="414.91" x2="40.05" y2="409.03" stroke="#241d1e" stroke-width="1.0"/>
<line x1="45" y1="422.6" x2="55.4" y2="425.5" stroke="#241d1e" stroke-width="1.2" stroke-linecap="round"/>
<line x1="43" y1="420.6" x2="53" y2="422.9" stroke="#241d1e" stroke-width="1.0"/>
<line x1="41.6" y1="415.5" x2="48.4" y2="409.7" stroke="#241d1e" stroke-width="1.0"/>
<line x1="43.6" y1="417.7" x2="50.4" y2="411.9" stroke="#241d1e" stroke-width="1.0"/>
<line x1="63.7" y1="407.7" x2="66.6" y2="404.4" stroke="#241d1e" stroke-width="1.2" stroke-linecap="round"/>
<line x1="66.6" y1="404.4" x2="75.1" y2="406" stroke="#241d1e" stroke-width="1.2" stroke-linecap="round"/>
<line x1="75.1" y1="406" x2="76.6" y2="415.8" stroke="#241d1e" stroke-width="1.2" stroke-linecap="round"/>
<line x1="76.6" y1="415.8" x2="69.6" y2="421.5" stroke="#241d1e" stroke-width="1.2" stroke-linecap="round"/>
<line x1="69.6" y1="421.5" x2="69.8" y2="414.4" stroke="#241d1e" stroke-width="1.2" stroke-linecap="round"/>
<line x1="69.8" y1="414.4" x2="63.7" y2="407.7" stroke="#241d1e" stroke-width="1.2" stroke-linecap="round"/>
<line x1="69.6" y1="421.5" x2="62.2" y2="424.2" stroke="#241d1e" stroke-width="1.2" stroke-linecap="round"/>
<line x1="65.2" y1="409.9" x2="68.8" y2="413.9" stroke="#241d1e" stroke-width="1.0"/>
<line x1="73.6" y1="408.9" x2="74.9" y2="414.9" stroke="#241d1e" stroke-width="1.0"/>
<line x1="68" y1="419.2" x2="73.6" y2="415.7" stroke="#241d1e" stroke-width="1.0"/>
<line x1="66.8" y1="406.4" x2="73.2" y2="407.7" stroke="#241d1e" stroke-width="1.0"/>
<line x1="53" y1="419.9" x2="56.6" y2="423.5" stroke="#241d1e" stroke-width="1.2" stroke-linecap="round"/>
<line x1="60.4" y1="409.7" x2="61.7" y2="419.2" stroke="#241d1e" stroke-width="1.2" stroke-linecap="round"/>
<line x1="61.7" y1="419.2" x2="60.3" y2="423.2" stroke="#241d1e" stroke-width="1.2" stroke-linecap="round"/>
<line x1="55.6" y1="411.9" x2="54.8" y2="418.7" stroke="#241d1e" stroke-width="1.0"/>
<line x1="58.6" y1="411.9" x2="59.9" y2="418.2" stroke="#241d1e" stroke-width="1.0"/>
<text x="64.3" y="414.09" font-size="9.416000000000002" fill="#d0202e" stroke="#d0202e" stroke-width="0.2" font-weight="bold" text-anchor="middle">N</text>
<text x="60.9" y="429.19" font-size="9.416000000000002" fill="#d0202e" stroke="#d0202e" stroke-width="0.2" font-weight="bold" text-anchor="middle">S</text>
<line x1="37.6" y1="43.8" x2="46.1" y2="39.5" stroke="#241d1e" stroke-width="1.2" stroke-linecap="round"/>
<line x1="46.1" y1="39.5" x2="53.8" y2="43.8" stroke="#241d1e" stroke-width="1.2" stroke-linecap="round"/>
<line x1="53.8" y1="43.8" x2="53.8" y2="53.8" stroke="#241d1e" stroke-width="1.2" stroke-linecap="round"/>
<line x1="53.8" y1="53.8" x2="45.3" y2="57.6" stroke="#241d1e" stroke-width="1.2" stroke-linecap="round"/>
<line x1="45.3" y1="57.6" x2="36.8" y2="53" stroke="#241d1e" stroke-width="1.2" stroke-linecap="round"/>
<line x1="36.8" y1="53" x2="37.6" y2="43.8" stroke="#241d1e" stroke-width="1.2" stroke-linecap="round"/>
<line x1="40.34" y1="44.99" x2="45.44" y2="42.41" stroke="#241d1e" stroke-width="1.0"/>
<line x1="51.5" y1="45.8" x2="51.5" y2="51.8" stroke="#241d1e" stroke-width="1.0"/>
<line x1="53.8" y1="43.8" x2="61.5" y2="39.5" stroke="#241d1e" stroke-width="1.2" stroke-linecap="round"/>
<line x1="61.5" y1="39.5" x2="70" y2="43.8" stroke="#241d1e" stroke-width="1.2" stroke-linecap="round"/>
<line x1="70" y1="43.8" x2="70" y2="53" stroke="#241d1e" stroke-width="1.2" stroke-linecap="round"/>
<line x1="70" y1="53" x2="63" y2="57.6" stroke="#241d1e" stroke-width="1.2" stroke-linecap="round"/>
<line x1="63" y1="57.6" x2="53.8" y2="53.8" stroke="#241d1e" stroke-width="1.2" stroke-linecap="round"/>
<line x1="62.16" y1="42.41" x2="67.26" y2="44.99" stroke="#241d1e" stroke-width="1.0"/>
<line x1="67.34" y1="52" x2="63.14" y2="54.76" stroke="#241d1e" stroke-width="1.0"/>
<line x1="28.4" y1="56.9" x2="36.8" y2="53" stroke="#241d1e" stroke-width="1.2" stroke-linecap="round"/>
<line x1="45.3" y1="57.6" x2="43.8" y2="68.4" stroke="#241d1e" stroke-width="1.2" stroke-linecap="round"/>
<line x1="43.8" y1="68.4" x2="35.3" y2="70.7" stroke="#241d1e" stroke-width="1.2" stroke-linecap="round"/>
<line x1="35.3" y1="70.7" x2="27.6" y2="66.1" stroke="#241d1e" stroke-width="1.2" stroke-linecap="round"/>
<line x1="27.6" y1="66.1" x2="28.4" y2="56.9" stroke="#241d1e" stroke-width="1.2" stroke-linecap="round"/>
<line x1="31.05" y1="58.21" x2="36.09" y2="55.87" stroke="#241d1e" stroke-width="1.0"/>
<line x1="30.05" y1="64.46" x2="30.53" y2="58.94" stroke="#241d1e" stroke-width="1.0"/>
<line x1="70" y1="53" x2="77.7" y2="56.9" stroke="#241d1e" stroke-width="1.2" stroke-linecap="round"/>
<line x1="77.7" y1="56.9" x2="79.2" y2="66.1" stroke="#241d1e" stroke-width="1.2" stroke-linecap="round"/>
<line x1="79.2" y1="66.1" x2="72.3" y2="70" stroke="#241d1e" stroke-width="1.2" stroke-linecap="round"/>
<line x1="72.3" y1="70" x2="63.8" y2="68.4" stroke="#241d1e" stroke-width="1.2" stroke-linecap="round"/>
<line x1="63.8" y1="68.4" x2="63" y2="57.6" stroke="#241d1e" stroke-width="1.2" stroke-linecap="round"/>
<line x1="70.5" y1="55.83" x2="75.12" y2="58.17" stroke="#241d1e" stroke-width="1.0"/>
<line x1="75.73" y1="59.11" x2="76.63" y2="64.63" stroke="#241d1e" stroke-width="1.0"/>
<line x1="43.8" y1="68.4" x2="51.7" y2="74" stroke="#241d1e" stroke-width="1.2" stroke-linecap="round"/>
<line x1="51.7" y1="74" x2="60.9" y2="71.5" stroke="#241d1e" stroke-width="1.2" stroke-linecap="round"/>
<line x1="60.9" y1="71.5" x2="63.8" y2="68.4" stroke="#241d1e" stroke-width="1.2" stroke-linecap="round"/>
<line x1="43.8" y1="68.4" x2="51.5" y2="74.3" stroke="#241d1e" stroke-width="1.2" stroke-linecap="round"/>
<line x1="51.5" y1="74.3" x2="50.2" y2="83.9" stroke="#241d1e" stroke-width="1.2" stroke-linecap="round"/>
<line x1="50.2" y1="83.9" x2="42.2" y2="86.6" stroke="#241d1e" stroke-width="1.2" stroke-linecap="round"/>
<line x1="42.2" y1="86.6" x2="33.7" y2="80.5" stroke="#241d1e" stroke-width="1.2" stroke-linecap="round"/>
<line x1="33.7" y1="80.5" x2="35.3" y2="70.7" stroke="#241d1e" stroke-width="1.2" stroke-linecap="round"/>
<line x1="43.94" y1="71.41" x2="48.56" y2="74.95" stroke="#241d1e" stroke-width="1.0"/>
<line x1="36.29" y1="78.91" x2="37.25" y2="73.03" stroke="#241d1e" stroke-width="1.0"/>
<line x1="42.2" y1="86.6" x2="52.6" y2="89.5" stroke="#241d1e" stroke-width="1.2" stroke-linecap="round"/>
<line x1="40.2" y1="84.6" x2="50.2" y2="86.9" stroke="#241d1e" stroke-width="1.0"/>
<line x1="38.8" y1="79.5" x2="45.6" y2="73.7" stroke="#241d1e" stroke-width="1.0"/>
<line x1="40.8" y1="81.7" x2="47.6" y2="75.9" stroke="#241d1e" stroke-width="1.0"/>
<line x1="51.6" y1="74" x2="50.1" y2="83.6" stroke="#241d1e" stroke-width="1.2" stroke-linecap="round"/>
<line x1="50.1" y1="83.6" x2="54.8" y2="88" stroke="#241d1e" stroke-width="1.2" stroke-linecap="round"/>
<line x1="60.6" y1="72" x2="63.7" y2="81.9" stroke="#241d1e" stroke-width="1.2" stroke-linecap="round"/>
<line x1="63.7" y1="81.9" x2="61" y2="86" stroke="#241d1e" stroke-width="1.2" stroke-linecap="round"/>
<line x1="72.6" y1="70.6" x2="73.6" y2="80.2" stroke="#241d1e" stroke-width="1.2" stroke-linecap="round"/>
<line x1="63.7" y1="81.9" x2="68.5" y2="82.3" stroke="#241d1e" stroke-width="1.2" stroke-linecap="round"/>
<line x1="65" y1="85.4" x2="70.2" y2="82.6" stroke="#241d1e" stroke-width="1.2" stroke-linecap="round"/>
<line x1="53" y1="76" x2="52.2" y2="82.6" stroke="#241d1e" stroke-width="1.0"/>
<line x1="56.6" y1="75.2" x2="59.6" y2="81.2" stroke="#241d1e" stroke-width="1.0"/>
<line x1="58.2" y1="74.6" x2="61.2" y2="80.4" stroke="#241d1e" stroke-width="1.0"/>
<line x1="66" y1="70.2" x2="71.2" y2="72" stroke="#241d1e" stroke-width="1.0"/>
<text x="58.3" y="93.14" font-size="8.988000000000001" fill="#d0202e" stroke="#d0202e" stroke-width="0.2" font-weight="bold" text-anchor="middle">S</text>
<text x="71.4" y="86.9" font-size="8.4" fill="#231f20" stroke="#231f20" stroke-width="0.26" textLength="13.4" lengthAdjust="spacingAndGlyphs"><tspan>CH</tspan><tspan dy="1.09" font-size="5.21">3</tspan></text>
<polygon points="471.37,58.29 475.32,61.12 475.56,65.98 471.92,69.19 467.13,68.35 464.81,64.08 466.69,59.6" fill="#e3f1e6" stroke="#1f8f3a" stroke-width="0.75" stroke-linejoin="round"/>
<polygon points="456.82,52.76 452.73,54.76 452.41,59.29 456.18,61.84 460.27,59.84 460.59,55.31" fill="#e3f1e6" stroke="#1f8f3a" stroke-width="0.75" stroke-linejoin="round"/>
<polygon points="464.92,51.96 460.83,53.96 460.51,58.49 464.28,61.04 468.37,59.04 468.69,54.51" fill="#e3f1e6" stroke="#1f8f3a" stroke-width="0.75" stroke-linejoin="round"/>
<polygon points="473.02,50.06 468.93,52.06 468.61,56.59 472.38,59.14 476.47,57.14 476.79,52.61" fill="#e3f1e6" stroke="#1f8f3a" stroke-width="0.75" stroke-linejoin="round"/>
<polygon points="453.42,59.66 449.33,61.66 449.01,66.19 452.78,68.74 456.87,66.74 457.19,62.21" fill="#e3f1e6" stroke="#1f8f3a" stroke-width="0.75" stroke-linejoin="round"/>
<polygon points="461.52,59.66 457.43,61.66 457.11,66.19 460.88,68.74 464.97,66.74 465.29,62.21" fill="#e3f1e6" stroke="#1f8f3a" stroke-width="0.75" stroke-linejoin="round"/>
<polygon points="479.12,55.86 475.03,57.86 474.71,62.39 478.48,64.94 482.57,62.94 482.89,58.41" fill="#e3f1e6" stroke="#1f8f3a" stroke-width="0.75" stroke-linejoin="round"/>
<polygon points="456.82,66.96 452.73,68.96 452.41,73.49 456.18,76.04 460.27,74.04 460.59,69.51" fill="#e3f1e6" stroke="#1f8f3a" stroke-width="0.75" stroke-linejoin="round"/>
<polygon points="464.92,67.36 460.83,69.36 460.51,73.89 464.28,76.44 468.37,74.44 468.69,69.91" fill="#e3f1e6" stroke="#1f8f3a" stroke-width="0.75" stroke-linejoin="round"/>
<polygon points="479.12,63.96 475.03,65.96 474.71,70.49 478.48,73.04 482.57,71.04 482.89,66.51" fill="#e3f1e6" stroke="#1f8f3a" stroke-width="0.75" stroke-linejoin="round"/>
<polygon points="524.37,67.19 528.32,70.02 528.56,74.88 524.92,78.09 520.13,77.25 517.81,72.98 519.69,68.5" fill="#e4effa" stroke="#3a8fd8" stroke-width="0.75" stroke-linejoin="round"/>
<polygon points="509.12,60.46 505.03,62.46 504.71,66.99 508.48,69.54 512.57,67.54 512.89,63.01" fill="#e4effa" stroke="#3a8fd8" stroke-width="0.75" stroke-linejoin="round"/>
<polygon points="517.12,59.66 513.03,61.66 512.71,66.19 516.48,68.74 520.57,66.74 520.89,62.21" fill="#e4effa" stroke="#3a8fd8" stroke-width="0.75" stroke-linejoin="round"/>
<polygon points="525.22,58.16 521.13,60.16 520.81,64.69 524.58,67.24 528.67,65.24 528.99,60.71" fill="#e4effa" stroke="#3a8fd8" stroke-width="0.75" stroke-linejoin="round"/>
<polygon points="505.62,67.76 501.53,69.76 501.21,74.29 504.98,76.84 509.07,74.84 509.39,70.31" fill="#e4effa" stroke="#3a8fd8" stroke-width="0.75" stroke-linejoin="round"/>
<polygon points="513.72,67.76 509.63,69.76 509.31,74.29 513.08,76.84 517.17,74.84 517.49,70.31" fill="#e4effa" stroke="#3a8fd8" stroke-width="0.75" stroke-linejoin="round"/>
<polygon points="531.82,63.96 527.73,65.96 527.41,70.49 531.18,73.04 535.27,71.04 535.59,66.51" fill="#e4effa" stroke="#3a8fd8" stroke-width="0.75" stroke-linejoin="round"/>
<polygon points="509.52,75.06 505.43,77.06 505.11,81.59 508.88,84.14 512.97,82.14 513.29,77.61" fill="#e4effa" stroke="#3a8fd8" stroke-width="0.75" stroke-linejoin="round"/>
<polygon points="517.52,75.46 513.43,77.46 513.11,81.99 516.88,84.54 520.97,82.54 521.29,78.01" fill="#e4effa" stroke="#3a8fd8" stroke-width="0.75" stroke-linejoin="round"/>
<polygon points="528.47,80.56 525.9,76.76 528.73,73.15 533.03,74.72 532.87,79.3" fill="#e4effa" stroke="#3a8fd8" stroke-width="0.75" stroke-linejoin="round"/>
<line x1="528.9" y1="80.8" x2="527.6" y2="85.5" stroke="#3a8fd8" stroke-width="0.75"/>
<text x="534.6" y="81" font-size="5" fill="#3a8fd8" stroke="#3a8fd8" stroke-width="0.2" font-weight="bold" text-anchor="middle">S</text>
<polygon points="406.2,321.7 402.39,323.9 402.39,328.3 406.2,330.5 410.01,328.3 410.01,323.9" fill="#fcebdf" stroke="#ec862c" stroke-width="0.75" stroke-linejoin="round"/>
<polygon points="414,321.7 410.19,323.9 410.19,328.3 414,330.5 417.81,328.3 417.81,323.9" fill="#fcebdf" stroke="#ec862c" stroke-width="0.75" stroke-linejoin="round"/>
<polygon points="422.1,322 418.29,324.2 418.29,328.6 422.1,330.8 425.91,328.6 425.91,324.2" fill="#fcebdf" stroke="#ec862c" stroke-width="0.75" stroke-linejoin="round"/>
<polygon points="401.3,328.4 397.49,330.6 397.49,335 401.3,337.2 405.11,335 405.11,330.6" fill="#fcebdf" stroke="#ec862c" stroke-width="0.75" stroke-linejoin="round"/>
<polygon points="409.4,329.1 405.59,331.3 405.59,335.7 409.4,337.9 413.21,335.7 413.21,331.3" fill="#fcebdf" stroke="#ec862c" stroke-width="0.75" stroke-linejoin="round"/>
<polygon points="427,329.1 423.19,331.3 423.19,335.7 427,337.9 430.81,335.7 430.81,331.3" fill="#fcebdf" stroke="#ec862c" stroke-width="0.75" stroke-linejoin="round"/>
<polygon points="404.5,335.7 400.69,337.9 400.69,342.3 404.5,344.5 408.31,342.3 408.31,337.9" fill="#fcebdf" stroke="#ec862c" stroke-width="0.75" stroke-linejoin="round"/>
<polygon points="412.6,336.8 408.79,339 408.79,343.4 412.6,345.6 416.41,343.4 416.41,339" fill="#fcebdf" stroke="#ec862c" stroke-width="0.75" stroke-linejoin="round"/>
<polygon points="427.22,343.75 427.22,339.45 423.5,337.3 419.78,339.45 419.78,343.75 423.5,345.9" fill="#fcebdf" stroke="none"/>
<polyline points="427.22,343.75 427.22,339.45 423.5,337.3 419.78,339.45 419.78,343.75 423.5,345.9" fill="none" stroke="#ec862c" stroke-width="0.75" stroke-linejoin="round"/>
<text x="428.2" y="344.3" font-size="4.6" fill="#ec862c" stroke="#ec862c" stroke-width="0.2" font-weight="bold" text-anchor="middle">N</text>
<polygon points="483.2,321.7 479.39,323.9 479.39,328.3 483.2,330.5 487.01,328.3 487.01,323.9" fill="#f8e2e4" stroke="#c01f2e" stroke-width="0.75" stroke-linejoin="round"/>
<polygon points="491,321.7 487.19,323.9 487.19,328.3 491,330.5 494.81,328.3 494.81,323.9" fill="#f8e2e4" stroke="#c01f2e" stroke-width="0.75" stroke-linejoin="round"/>
<polygon points="499.1,322 495.29,324.2 495.29,328.6 499.1,330.8 502.91,328.6 502.91,324.2" fill="#f8e2e4" stroke="#c01f2e" stroke-width="0.75" stroke-linejoin="round"/>
<polygon points="478.3,328.4 474.49,330.6 474.49,335 478.3,337.2 482.11,335 482.11,330.6" fill="#f8e2e4" stroke="#c01f2e" stroke-width="0.75" stroke-linejoin="round"/>
<polygon points="486.4,329.1 482.59,331.3 482.59,335.7 486.4,337.9 490.21,335.7 490.21,331.3" fill="#f8e2e4" stroke="#c01f2e" stroke-width="0.75" stroke-linejoin="round"/>
<polygon points="504,329.1 500.19,331.3 500.19,335.7 504,337.9 507.81,335.7 507.81,331.3" fill="#f8e2e4" stroke="#c01f2e" stroke-width="0.75" stroke-linejoin="round"/>
<polygon points="481.5,335.7 477.69,337.9 477.69,342.3 481.5,344.5 485.31,342.3 485.31,337.9" fill="#f8e2e4" stroke="#c01f2e" stroke-width="0.75" stroke-linejoin="round"/>
<polygon points="489.6,336.8 485.79,339 485.79,343.4 489.6,345.6 493.41,343.4 493.41,339" fill="#f8e2e4" stroke="#c01f2e" stroke-width="0.75" stroke-linejoin="round"/>
<polygon points="504.22,343.75 504.22,339.45 500.5,337.3 496.78,339.45 496.78,343.75 500.5,345.9" fill="#f8e2e4" stroke="none"/>
<polyline points="504.22,343.75 504.22,339.45 500.5,337.3 496.78,339.45 496.78,343.75 500.5,345.9" fill="none" stroke="#c01f2e" stroke-width="0.75" stroke-linejoin="round"/>
<text x="505.2" y="344.3" font-size="4.6" fill="#c01f2e" stroke="#c01f2e" stroke-width="0.2" font-weight="bold" text-anchor="middle">NH</text>
<text x="505" y="341.2" font-size="4" fill="#c01f2e" stroke="#c01f2e" stroke-width="0.2" font-weight="bold" text-anchor="middle">+</text>
<defs>
<linearGradient id="g1body" x1="0" y1="0" x2="1" y2="0">
<stop offset="0" stop-color="#0c5e1c"/><stop offset="0.2" stop-color="#1e8f32"/><stop offset="0.55" stop-color="#23913a"/><stop offset="0.75" stop-color="#3aa545"/><stop offset="1" stop-color="#0a5418"/></linearGradient>
<linearGradient id="g1hi" x1="0" y1="0" x2="0.6" y2="1">
<stop offset="0" stop-color="#ffffff"/><stop offset="0.5" stop-color="#bfe8ef"/><stop offset="1" stop-color="#6cc8d8" stop-opacity="0"/></linearGradient>
<linearGradient id="g2body" x1="0" y1="0" x2="1" y2="0">
<stop offset="0" stop-color="#b86a08"/><stop offset="0.2" stop-color="#f2b020"/><stop offset="0.55" stop-color="#ee9818"/><stop offset="0.8" stop-color="#f0a828"/><stop offset="1" stop-color="#a05206"/></linearGradient>
<linearGradient id="g2hi" x1="0" y1="0" x2="0.6" y2="1">
<stop offset="0" stop-color="#fffef0"/><stop offset="0.5" stop-color="#fff0a0"/><stop offset="1" stop-color="#ffd860" stop-opacity="0"/></linearGradient>
<linearGradient id="g1cap" x1="0" y1="0" x2="1" y2="0"><stop offset="0" stop-color="#0f6a20"/><stop offset="0.4" stop-color="#36b040"/><stop offset="1" stop-color="#127024"/></linearGradient>
<linearGradient id="g2cap" x1="0" y1="0" x2="1" y2="0"><stop offset="0" stop-color="#3a7ad8"/><stop offset="0.45" stop-color="#6a80a8"/><stop offset="1" stop-color="#7a4a18"/></linearGradient>
<linearGradient id="g2neck" x1="0" y1="0" x2="1" y2="0"><stop offset="0" stop-color="#c87818"/><stop offset="0.5" stop-color="#8a5212"/><stop offset="1" stop-color="#6a3a0a"/></linearGradient>
</defs>
<rect x="633.2" y="281.5" width="16" height="52.1" fill="#040604"/>
<path d="M636.6,283.0 L646.0,283.0 L645.4,289.4 L647.0,289.4 L647.0,295.0 L635.8,295.0 L635.8,289.4 L637.2,289.4 Z" fill="url(#g1cap)"/>
<rect x="635.8" y="289.4" width="11.2" height="5.4" fill="url(#g1cap)"/>
<rect x="635.6" y="295.0" width="11.6" height="3.4" fill="#0b4a16"/>
<rect x="635.6" y="298.4" width="11.6" height="32.0" fill="url(#g1body)"/>
<path d="M636.0,298.6 L645.6,298.6 L639.0,318.5 L636.0,321 Z" fill="url(#g1hi)"/>
<rect x="635.6" y="329.0" width="11.6" height="2.6" fill="#0a4814"/>
<rect x="654.8" y="281.5" width="16.2" height="52.1" fill="#060402"/>
<path d="M658.0,283.0 L667.6,283.0 L667.0,289.4 L668.6,289.4 L668.6,296.0 L657.4,296.0 L657.4,289.4 L658.8,289.4 Z" fill="url(#g2cap)"/>
<rect x="657.4" y="289.4" width="11.2" height="6.6" fill="url(#g2neck)"/>
<rect x="657.2" y="296.0" width="11.6" height="5.5" fill="#2a1806"/>
<rect x="657.2" y="301.5" width="11.6" height="28.8" fill="url(#g2body)"/>
<path d="M657.6,301.7 L666.6,301.7 L660.4,322.5 L657.6,325 Z" fill="url(#g2hi)"/>
<rect x="657.2" y="329.0" width="11.6" height="2.6" fill="#8a4a08"/>
</svg></body></html>
